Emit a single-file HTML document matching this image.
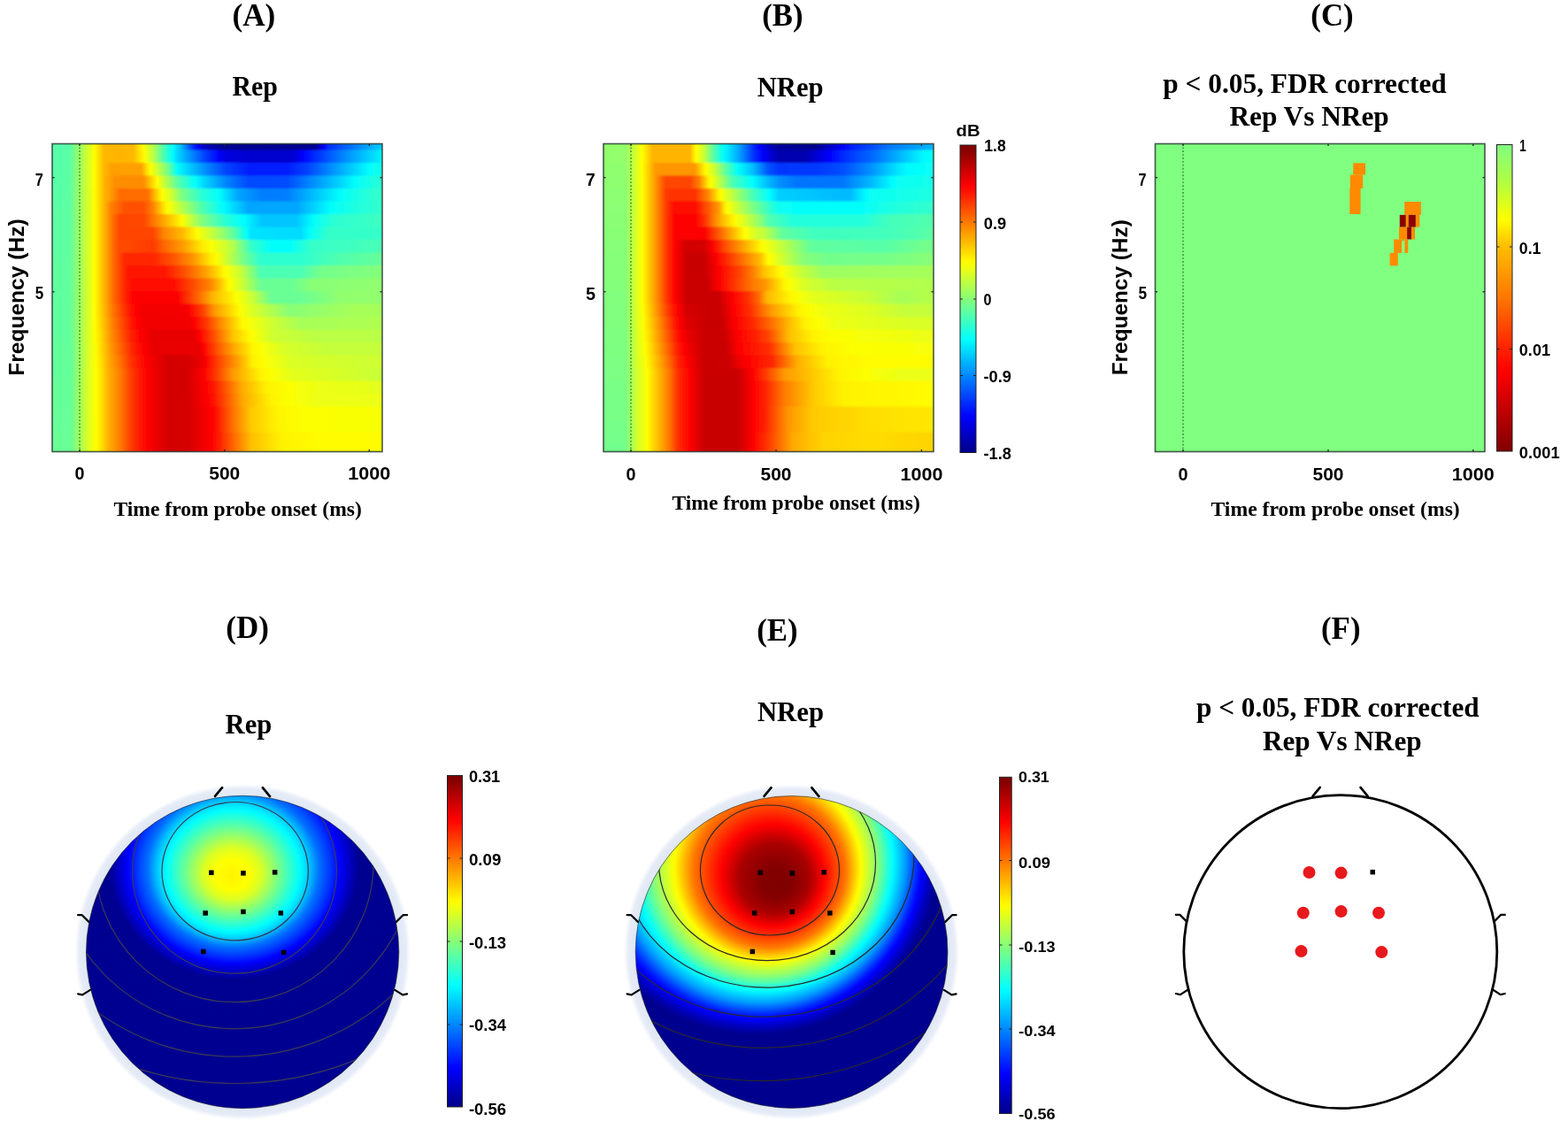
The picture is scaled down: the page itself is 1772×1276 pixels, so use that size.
<!DOCTYPE html>
<html><head><meta charset="utf-8"><title>Figure</title>
<style>html,body{margin:0;padding:0;background:#fff;}svg{display:block;}</style>
</head><body>
<svg width="1772" height="1276" viewBox="0 0 1772 1276"><defs><clipPath id="hclip1"><rect x="59" y="162.5" width="373" height="348.0"/></clipPath><filter id="hblur2" x="49" y="152.5" width="393" height="368.0" filterUnits="userSpaceOnUse"><feGaussianBlur stdDeviation="0.6 1.3"/></filter><linearGradient id="g3" gradientUnits="userSpaceOnUse" x1="53" y1="0" x2="438" y2="0"><stop offset="0.0000" stop-color="#54ffab"/><stop offset="0.0662" stop-color="#57ffa8"/><stop offset="0.1364" stop-color="#f9ff06"/><stop offset="0.1403" stop-color="#fffd00"/><stop offset="0.1675" stop-color="#ffb800"/><stop offset="0.2065" stop-color="#ffb500"/><stop offset="0.2532" stop-color="#ffb800"/><stop offset="0.2805" stop-color="#fff900"/><stop offset="0.2844" stop-color="#fbff04"/><stop offset="0.3117" stop-color="#b2ff4d"/><stop offset="0.3468" stop-color="#42ffbd"/><stop offset="0.3701" stop-color="#00feff"/><stop offset="0.3935" stop-color="#00beff"/><stop offset="0.4247" stop-color="#003cff"/><stop offset="0.4403" stop-color="#0007ff"/><stop offset="0.4442" stop-color="#0000f9"/><stop offset="0.4597" stop-color="#0000c5"/><stop offset="0.5143" stop-color="#00008f"/><stop offset="0.7870" stop-color="#000092"/><stop offset="0.8143" stop-color="#0000fd"/><stop offset="0.8260" stop-color="#002cff"/><stop offset="0.9779" stop-color="#00c8ff"/><stop offset="0.9896" stop-color="#00cfff"/><stop offset="1.0000" stop-color="#00cfff"/></linearGradient><linearGradient id="g4" gradientUnits="userSpaceOnUse" x1="53" y1="0" x2="438" y2="0"><stop offset="0.0000" stop-color="#55ffaa"/><stop offset="0.0662" stop-color="#58ffa7"/><stop offset="0.1364" stop-color="#f9ff06"/><stop offset="0.1403" stop-color="#fffd00"/><stop offset="0.1675" stop-color="#ffb800"/><stop offset="0.2065" stop-color="#ffb500"/><stop offset="0.2532" stop-color="#ffb700"/><stop offset="0.2805" stop-color="#ffef00"/><stop offset="0.2883" stop-color="#fbff04"/><stop offset="0.3117" stop-color="#bbff44"/><stop offset="0.3429" stop-color="#4dffb2"/><stop offset="0.3662" stop-color="#08fff7"/><stop offset="0.3701" stop-color="#00fbff"/><stop offset="0.3818" stop-color="#00d9ff"/><stop offset="0.4636" stop-color="#0042ff"/><stop offset="0.5065" stop-color="#0000fc"/><stop offset="0.5221" stop-color="#0000e3"/><stop offset="0.6039" stop-color="#0000cf"/><stop offset="0.7208" stop-color="#0000cf"/><stop offset="0.7519" stop-color="#0000ff"/><stop offset="0.7753" stop-color="#001fff"/><stop offset="0.9000" stop-color="#00a6ff"/><stop offset="0.9623" stop-color="#00dfff"/><stop offset="0.9857" stop-color="#00f8ff"/><stop offset="1.0000" stop-color="#00f8ff"/></linearGradient><linearGradient id="g5" gradientUnits="userSpaceOnUse" x1="53" y1="0" x2="438" y2="0"><stop offset="0.0000" stop-color="#56ffa9"/><stop offset="0.0662" stop-color="#59ffa6"/><stop offset="0.1364" stop-color="#f9ff06"/><stop offset="0.1403" stop-color="#fffd00"/><stop offset="0.1675" stop-color="#ffb800"/><stop offset="0.1792" stop-color="#ffad00"/><stop offset="0.1870" stop-color="#ffa000"/><stop offset="0.2766" stop-color="#ffa000"/><stop offset="0.2844" stop-color="#ffba00"/><stop offset="0.2961" stop-color="#ffe800"/><stop offset="0.3039" stop-color="#fffe00"/><stop offset="0.3429" stop-color="#97ff68"/><stop offset="0.3545" stop-color="#78ff87"/><stop offset="0.3818" stop-color="#03fffc"/><stop offset="0.4714" stop-color="#0084ff"/><stop offset="0.5260" stop-color="#0043ff"/><stop offset="0.5961" stop-color="#001cff"/><stop offset="0.7091" stop-color="#001fff"/><stop offset="0.7675" stop-color="#0045ff"/><stop offset="0.8494" stop-color="#009eff"/><stop offset="0.9468" stop-color="#02fffd"/><stop offset="0.9896" stop-color="#17ffe8"/><stop offset="1.0000" stop-color="#17ffe8"/></linearGradient><linearGradient id="g6" gradientUnits="userSpaceOnUse" x1="53" y1="0" x2="438" y2="0"><stop offset="0.0000" stop-color="#57ffa8"/><stop offset="0.0662" stop-color="#5affa5"/><stop offset="0.1364" stop-color="#f9ff06"/><stop offset="0.1403" stop-color="#fffd00"/><stop offset="0.1714" stop-color="#ffad00"/><stop offset="0.1831" stop-color="#ffa500"/><stop offset="0.1987" stop-color="#ff8e00"/><stop offset="0.2805" stop-color="#ff8c00"/><stop offset="0.2844" stop-color="#ff8f00"/><stop offset="0.3234" stop-color="#fffd00"/><stop offset="0.3818" stop-color="#5fffa0"/><stop offset="0.4364" stop-color="#00feff"/><stop offset="0.4636" stop-color="#00d4ff"/><stop offset="0.5260" stop-color="#0084ff"/><stop offset="0.5922" stop-color="#004aff"/><stop offset="0.7052" stop-color="#004bff"/><stop offset="0.8610" stop-color="#00d4ff"/><stop offset="0.9039" stop-color="#02fffd"/><stop offset="0.9857" stop-color="#2cffd3"/><stop offset="1.0000" stop-color="#2cffd3"/></linearGradient><linearGradient id="g7" gradientUnits="userSpaceOnUse" x1="53" y1="0" x2="438" y2="0"><stop offset="0.0000" stop-color="#58ffa7"/><stop offset="0.0662" stop-color="#5bffa4"/><stop offset="0.1130" stop-color="#c5ff3a"/><stop offset="0.1403" stop-color="#fffd00"/><stop offset="0.1714" stop-color="#ffad00"/><stop offset="0.1792" stop-color="#ffab00"/><stop offset="0.2143" stop-color="#ff6d00"/><stop offset="0.2961" stop-color="#ff6d00"/><stop offset="0.3195" stop-color="#ffc500"/><stop offset="0.3312" stop-color="#ffed00"/><stop offset="0.3390" stop-color="#fffe00"/><stop offset="0.3662" stop-color="#cfff30"/><stop offset="0.3935" stop-color="#81ff7e"/><stop offset="0.4558" stop-color="#29ffd6"/><stop offset="0.5065" stop-color="#03fffc"/><stop offset="0.5416" stop-color="#00c4ff"/><stop offset="0.5610" stop-color="#00a5ff"/><stop offset="0.6312" stop-color="#007dff"/><stop offset="0.7052" stop-color="#007eff"/><stop offset="0.8610" stop-color="#03fffc"/><stop offset="0.9662" stop-color="#31ffce"/><stop offset="1.0000" stop-color="#36ffc9"/></linearGradient><linearGradient id="g8" gradientUnits="userSpaceOnUse" x1="53" y1="0" x2="438" y2="0"><stop offset="0.0000" stop-color="#59ffa6"/><stop offset="0.0662" stop-color="#5cffa3"/><stop offset="0.1130" stop-color="#c5ff3a"/><stop offset="0.1403" stop-color="#fffd00"/><stop offset="0.1753" stop-color="#ffa200"/><stop offset="0.1870" stop-color="#ff8200"/><stop offset="0.2299" stop-color="#ff4f00"/><stop offset="0.2844" stop-color="#ff5100"/><stop offset="0.3117" stop-color="#ff8200"/><stop offset="0.3506" stop-color="#fff700"/><stop offset="0.3584" stop-color="#f9ff06"/><stop offset="0.4558" stop-color="#4fffb0"/><stop offset="0.5182" stop-color="#00fdff"/><stop offset="0.5922" stop-color="#00a6ff"/><stop offset="0.7325" stop-color="#00a6ff"/><stop offset="0.8338" stop-color="#03fffc"/><stop offset="0.9039" stop-color="#1effe1"/><stop offset="0.9935" stop-color="#36ffc9"/><stop offset="1.0000" stop-color="#36ffc9"/></linearGradient><linearGradient id="g9" gradientUnits="userSpaceOnUse" x1="53" y1="0" x2="438" y2="0"><stop offset="0.0000" stop-color="#5affa5"/><stop offset="0.0662" stop-color="#5cffa3"/><stop offset="0.1091" stop-color="#bcff43"/><stop offset="0.1403" stop-color="#fffd00"/><stop offset="0.1753" stop-color="#ffa200"/><stop offset="0.1948" stop-color="#ff6c00"/><stop offset="0.2143" stop-color="#ff4500"/><stop offset="0.2844" stop-color="#ff4700"/><stop offset="0.3234" stop-color="#ff8900"/><stop offset="0.3740" stop-color="#ffd800"/><stop offset="0.3974" stop-color="#fcff03"/><stop offset="0.4519" stop-color="#87ff78"/><stop offset="0.5260" stop-color="#29ffd6"/><stop offset="0.5766" stop-color="#00ffff"/><stop offset="0.6312" stop-color="#00c5ff"/><stop offset="0.7325" stop-color="#00c5ff"/><stop offset="0.7831" stop-color="#03fffc"/><stop offset="0.8416" stop-color="#2cffd3"/><stop offset="1.0000" stop-color="#40ffbf"/></linearGradient><linearGradient id="g10" gradientUnits="userSpaceOnUse" x1="53" y1="0" x2="438" y2="0"><stop offset="0.0000" stop-color="#5affa5"/><stop offset="0.0662" stop-color="#5dffa2"/><stop offset="0.1091" stop-color="#bcff43"/><stop offset="0.1403" stop-color="#fffd00"/><stop offset="0.1753" stop-color="#ffa200"/><stop offset="0.1948" stop-color="#ff6c00"/><stop offset="0.2143" stop-color="#ff4500"/><stop offset="0.3117" stop-color="#ff4500"/><stop offset="0.3429" stop-color="#ff8400"/><stop offset="0.3974" stop-color="#ffb900"/><stop offset="0.4403" stop-color="#fffe00"/><stop offset="0.4948" stop-color="#b6ff49"/><stop offset="0.5455" stop-color="#63ff9c"/><stop offset="0.5883" stop-color="#00feff"/><stop offset="0.6000" stop-color="#00e3ff"/><stop offset="0.7442" stop-color="#00dbff"/><stop offset="0.7714" stop-color="#03fffc"/><stop offset="0.8299" stop-color="#36ffc9"/><stop offset="1.0000" stop-color="#36ffc9"/></linearGradient><linearGradient id="g11" gradientUnits="userSpaceOnUse" x1="53" y1="0" x2="438" y2="0"><stop offset="0.0000" stop-color="#5bffa4"/><stop offset="0.0662" stop-color="#5effa1"/><stop offset="0.1052" stop-color="#b2ff4d"/><stop offset="0.1364" stop-color="#f9ff06"/><stop offset="0.1403" stop-color="#fffd00"/><stop offset="0.1753" stop-color="#ffa200"/><stop offset="0.1948" stop-color="#ff6c00"/><stop offset="0.2104" stop-color="#ff4d00"/><stop offset="0.3117" stop-color="#ff3a00"/><stop offset="0.3468" stop-color="#ff6900"/><stop offset="0.4013" stop-color="#ff9f00"/><stop offset="0.4558" stop-color="#ffeb00"/><stop offset="0.4831" stop-color="#fbff04"/><stop offset="0.5299" stop-color="#c9ff36"/><stop offset="0.5455" stop-color="#b4ff4b"/><stop offset="0.6000" stop-color="#36ffc9"/><stop offset="0.6584" stop-color="#03fffc"/><stop offset="0.7169" stop-color="#05fffa"/><stop offset="0.7753" stop-color="#36ffc9"/><stop offset="1.0000" stop-color="#4affb5"/></linearGradient><linearGradient id="g12" gradientUnits="userSpaceOnUse" x1="53" y1="0" x2="438" y2="0"><stop offset="0.0000" stop-color="#5cffa3"/><stop offset="0.0662" stop-color="#5fffa0"/><stop offset="0.1052" stop-color="#b2ff4d"/><stop offset="0.1364" stop-color="#f9ff06"/><stop offset="0.1403" stop-color="#fffd00"/><stop offset="0.1753" stop-color="#ffa200"/><stop offset="0.1948" stop-color="#ff6c00"/><stop offset="0.2260" stop-color="#ff2c00"/><stop offset="0.2299" stop-color="#ff2600"/><stop offset="0.3156" stop-color="#ff2900"/><stop offset="0.3740" stop-color="#ff5700"/><stop offset="0.4286" stop-color="#ff9500"/><stop offset="0.4792" stop-color="#ffe900"/><stop offset="0.4987" stop-color="#fffc00"/><stop offset="0.5805" stop-color="#70ff8f"/><stop offset="0.6273" stop-color="#2effd1"/><stop offset="0.7481" stop-color="#2effd1"/><stop offset="0.8532" stop-color="#4fffb0"/><stop offset="1.0000" stop-color="#69ff96"/></linearGradient><linearGradient id="g13" gradientUnits="userSpaceOnUse" x1="53" y1="0" x2="438" y2="0"><stop offset="0.0000" stop-color="#5dffa2"/><stop offset="0.0662" stop-color="#60ff9f"/><stop offset="0.1052" stop-color="#b2ff4d"/><stop offset="0.1364" stop-color="#f9ff06"/><stop offset="0.1403" stop-color="#fffd00"/><stop offset="0.1753" stop-color="#ffa200"/><stop offset="0.1948" stop-color="#ff6c00"/><stop offset="0.2299" stop-color="#ff2500"/><stop offset="0.2416" stop-color="#ff1200"/><stop offset="0.3429" stop-color="#ff1400"/><stop offset="0.4052" stop-color="#ff5200"/><stop offset="0.4675" stop-color="#ffa300"/><stop offset="0.5026" stop-color="#ffdb00"/><stop offset="0.5182" stop-color="#fff700"/><stop offset="0.5299" stop-color="#f9ff06"/><stop offset="0.5727" stop-color="#c2ff3d"/><stop offset="0.6273" stop-color="#4dffb2"/><stop offset="0.7442" stop-color="#4bffb4"/><stop offset="0.8026" stop-color="#73ff8c"/><stop offset="1.0000" stop-color="#87ff78"/></linearGradient><linearGradient id="g14" gradientUnits="userSpaceOnUse" x1="53" y1="0" x2="438" y2="0"><stop offset="0.0000" stop-color="#5effa1"/><stop offset="0.0662" stop-color="#60ff9f"/><stop offset="0.1052" stop-color="#b2ff4d"/><stop offset="0.1364" stop-color="#f9ff06"/><stop offset="0.1403" stop-color="#fffd00"/><stop offset="0.1753" stop-color="#ffa200"/><stop offset="0.1948" stop-color="#ff6c00"/><stop offset="0.2299" stop-color="#ff2500"/><stop offset="0.2571" stop-color="#ff0700"/><stop offset="0.3662" stop-color="#ff0700"/><stop offset="0.4792" stop-color="#ff8400"/><stop offset="0.5065" stop-color="#ffbe00"/><stop offset="0.5299" stop-color="#fff600"/><stop offset="0.5377" stop-color="#feff01"/><stop offset="0.5805" stop-color="#bfff40"/><stop offset="0.6273" stop-color="#6bff94"/><stop offset="0.7169" stop-color="#6aff95"/><stop offset="0.7753" stop-color="#88ff77"/><stop offset="1.0000" stop-color="#92ff6d"/></linearGradient><linearGradient id="g15" gradientUnits="userSpaceOnUse" x1="53" y1="0" x2="438" y2="0"><stop offset="0.0000" stop-color="#5fffa0"/><stop offset="0.0662" stop-color="#61ff9e"/><stop offset="0.1013" stop-color="#a9ff56"/><stop offset="0.1364" stop-color="#f9ff06"/><stop offset="0.1403" stop-color="#fffd00"/><stop offset="0.1753" stop-color="#ffa200"/><stop offset="0.1948" stop-color="#ff6c00"/><stop offset="0.2299" stop-color="#ff2500"/><stop offset="0.2494" stop-color="#ff0500"/><stop offset="0.2688" stop-color="#fc0000"/><stop offset="0.3818" stop-color="#fc0000"/><stop offset="0.4558" stop-color="#ff7a00"/><stop offset="0.4870" stop-color="#ffb600"/><stop offset="0.5571" stop-color="#fdff02"/><stop offset="0.6039" stop-color="#c8ff37"/><stop offset="0.6584" stop-color="#69ff96"/><stop offset="0.7519" stop-color="#6cff93"/><stop offset="0.8649" stop-color="#92ff6d"/><stop offset="1.0000" stop-color="#92ff6d"/></linearGradient><linearGradient id="g16" gradientUnits="userSpaceOnUse" x1="53" y1="0" x2="438" y2="0"><stop offset="0.0000" stop-color="#60ff9f"/><stop offset="0.0662" stop-color="#62ff9d"/><stop offset="0.1013" stop-color="#a9ff56"/><stop offset="0.1364" stop-color="#f8ff07"/><stop offset="0.1403" stop-color="#fffe00"/><stop offset="0.1753" stop-color="#ffa600"/><stop offset="0.1948" stop-color="#ff7400"/><stop offset="0.2455" stop-color="#ff1300"/><stop offset="0.2649" stop-color="#fc0000"/><stop offset="0.2805" stop-color="#f20000"/><stop offset="0.4091" stop-color="#f40000"/><stop offset="0.4169" stop-color="#ff0100"/><stop offset="0.4597" stop-color="#ff4500"/><stop offset="0.4909" stop-color="#ff9600"/><stop offset="0.5649" stop-color="#fffc00"/><stop offset="0.6039" stop-color="#d9ff26"/><stop offset="0.7130" stop-color="#88ff77"/><stop offset="0.9039" stop-color="#a6ff59"/><stop offset="1.0000" stop-color="#a6ff59"/></linearGradient><linearGradient id="g17" gradientUnits="userSpaceOnUse" x1="53" y1="0" x2="438" y2="0"><stop offset="0.0000" stop-color="#60ff9f"/><stop offset="0.0662" stop-color="#62ff9d"/><stop offset="0.0974" stop-color="#a1ff5e"/><stop offset="0.1286" stop-color="#e8ff17"/><stop offset="0.1403" stop-color="#feff01"/><stop offset="0.1675" stop-color="#ffbf00"/><stop offset="0.1948" stop-color="#ff7c00"/><stop offset="0.2494" stop-color="#ff1600"/><stop offset="0.2688" stop-color="#ff0000"/><stop offset="0.2883" stop-color="#f20000"/><stop offset="0.4208" stop-color="#f20000"/><stop offset="0.4325" stop-color="#ff0300"/><stop offset="0.4675" stop-color="#ff3600"/><stop offset="0.5065" stop-color="#ff8400"/><stop offset="0.5727" stop-color="#fff800"/><stop offset="0.5922" stop-color="#f9ff06"/><stop offset="0.6779" stop-color="#c5ff3a"/><stop offset="0.7481" stop-color="#a6ff59"/><stop offset="1.0000" stop-color="#b0ff4f"/></linearGradient><linearGradient id="g18" gradientUnits="userSpaceOnUse" x1="53" y1="0" x2="438" y2="0"><stop offset="0.0000" stop-color="#61ff9e"/><stop offset="0.0662" stop-color="#62ff9d"/><stop offset="0.0740" stop-color="#6fff90"/><stop offset="0.1286" stop-color="#e8ff17"/><stop offset="0.1403" stop-color="#fdff02"/><stop offset="0.1558" stop-color="#ffe000"/><stop offset="0.1870" stop-color="#ff9300"/><stop offset="0.2455" stop-color="#ff2400"/><stop offset="0.2766" stop-color="#fe0000"/><stop offset="0.3078" stop-color="#e80000"/><stop offset="0.4325" stop-color="#e80000"/><stop offset="0.4481" stop-color="#ff0200"/><stop offset="0.4948" stop-color="#ff5800"/><stop offset="0.5455" stop-color="#ffc200"/><stop offset="0.5922" stop-color="#fff800"/><stop offset="0.6039" stop-color="#fcff03"/><stop offset="0.6623" stop-color="#ceff31"/><stop offset="0.7909" stop-color="#baff45"/><stop offset="1.0000" stop-color="#baff45"/></linearGradient><linearGradient id="g19" gradientUnits="userSpaceOnUse" x1="53" y1="0" x2="438" y2="0"><stop offset="0.0000" stop-color="#62ff9d"/><stop offset="0.0701" stop-color="#65ff9a"/><stop offset="0.1286" stop-color="#e8ff17"/><stop offset="0.1442" stop-color="#fffc00"/><stop offset="0.1636" stop-color="#ffd000"/><stop offset="0.1870" stop-color="#ff9a00"/><stop offset="0.2260" stop-color="#ff5300"/><stop offset="0.2494" stop-color="#ff2800"/><stop offset="0.2844" stop-color="#ff0000"/><stop offset="0.3156" stop-color="#e80000"/><stop offset="0.4481" stop-color="#ea0000"/><stop offset="0.4597" stop-color="#ff0400"/><stop offset="0.5026" stop-color="#ff5800"/><stop offset="0.5532" stop-color="#ffaf00"/><stop offset="0.6039" stop-color="#fff400"/><stop offset="0.6273" stop-color="#fcff03"/><stop offset="0.6935" stop-color="#d8ff27"/><stop offset="0.8182" stop-color="#c5ff3a"/><stop offset="1.0000" stop-color="#c5ff3a"/></linearGradient><linearGradient id="g20" gradientUnits="userSpaceOnUse" x1="53" y1="0" x2="438" y2="0"><stop offset="0.0000" stop-color="#63ff9c"/><stop offset="0.0701" stop-color="#65ff9a"/><stop offset="0.1286" stop-color="#e9ff16"/><stop offset="0.1442" stop-color="#fffe00"/><stop offset="0.1597" stop-color="#ffdd00"/><stop offset="0.1831" stop-color="#ffa700"/><stop offset="0.2182" stop-color="#ff6d00"/><stop offset="0.2455" stop-color="#ff3600"/><stop offset="0.2805" stop-color="#ff0a00"/><stop offset="0.2961" stop-color="#fa0000"/><stop offset="0.3584" stop-color="#d30000"/><stop offset="0.4130" stop-color="#d60000"/><stop offset="0.4558" stop-color="#ea0000"/><stop offset="0.4675" stop-color="#ff0200"/><stop offset="0.5026" stop-color="#ff4100"/><stop offset="0.5688" stop-color="#ffae00"/><stop offset="0.6039" stop-color="#fff000"/><stop offset="0.6390" stop-color="#fcff03"/><stop offset="0.7208" stop-color="#d9ff26"/><stop offset="0.9156" stop-color="#cfff30"/><stop offset="1.0000" stop-color="#cfff30"/></linearGradient><linearGradient id="g21" gradientUnits="userSpaceOnUse" x1="53" y1="0" x2="438" y2="0"><stop offset="0.0000" stop-color="#64ff9b"/><stop offset="0.0701" stop-color="#64ff9b"/><stop offset="0.1247" stop-color="#e3ff1c"/><stop offset="0.1442" stop-color="#feff01"/><stop offset="0.1558" stop-color="#ffea00"/><stop offset="0.1792" stop-color="#ffb300"/><stop offset="0.2182" stop-color="#ff7700"/><stop offset="0.2455" stop-color="#ff3f00"/><stop offset="0.2805" stop-color="#ff1100"/><stop offset="0.2961" stop-color="#ff0000"/><stop offset="0.3545" stop-color="#d30000"/><stop offset="0.4091" stop-color="#d40000"/><stop offset="0.4481" stop-color="#f40000"/><stop offset="0.4636" stop-color="#ff0600"/><stop offset="0.4987" stop-color="#ff3f00"/><stop offset="0.5455" stop-color="#ff9900"/><stop offset="0.6273" stop-color="#fff400"/><stop offset="0.6623" stop-color="#fbff04"/><stop offset="0.7208" stop-color="#e3ff1c"/><stop offset="0.9000" stop-color="#d2ff2d"/><stop offset="1.0000" stop-color="#c5ff3a"/></linearGradient><linearGradient id="g22" gradientUnits="userSpaceOnUse" x1="53" y1="0" x2="438" y2="0"><stop offset="0.0000" stop-color="#65ff9a"/><stop offset="0.0701" stop-color="#65ff9a"/><stop offset="0.1247" stop-color="#e3ff1c"/><stop offset="0.1442" stop-color="#feff01"/><stop offset="0.1558" stop-color="#ffea00"/><stop offset="0.1792" stop-color="#ffb300"/><stop offset="0.2182" stop-color="#ff7700"/><stop offset="0.2455" stop-color="#ff3f00"/><stop offset="0.2805" stop-color="#ff1100"/><stop offset="0.2961" stop-color="#ff0000"/><stop offset="0.3545" stop-color="#d30000"/><stop offset="0.4091" stop-color="#d40000"/><stop offset="0.4675" stop-color="#ff0200"/><stop offset="0.4870" stop-color="#ff1400"/><stop offset="0.5727" stop-color="#ffac00"/><stop offset="0.6468" stop-color="#fff300"/><stop offset="0.7130" stop-color="#fcff03"/><stop offset="0.7909" stop-color="#edff12"/><stop offset="1.0000" stop-color="#e3ff1c"/></linearGradient><linearGradient id="g23" gradientUnits="userSpaceOnUse" x1="53" y1="0" x2="438" y2="0"><stop offset="0.0000" stop-color="#65ff9a"/><stop offset="0.0701" stop-color="#65ff9a"/><stop offset="0.1247" stop-color="#e3ff1c"/><stop offset="0.1442" stop-color="#feff01"/><stop offset="0.1558" stop-color="#ffea00"/><stop offset="0.1792" stop-color="#ffb300"/><stop offset="0.2182" stop-color="#ff7700"/><stop offset="0.2455" stop-color="#ff3f00"/><stop offset="0.2805" stop-color="#ff1100"/><stop offset="0.2961" stop-color="#ff0000"/><stop offset="0.3545" stop-color="#d30000"/><stop offset="0.4091" stop-color="#d40000"/><stop offset="0.4714" stop-color="#ff0200"/><stop offset="0.4870" stop-color="#ff0f00"/><stop offset="0.5766" stop-color="#ffab00"/><stop offset="0.6584" stop-color="#fff300"/><stop offset="0.7169" stop-color="#fcff03"/><stop offset="0.7831" stop-color="#edff12"/><stop offset="1.0000" stop-color="#edff12"/></linearGradient><linearGradient id="g24" gradientUnits="userSpaceOnUse" x1="53" y1="0" x2="438" y2="0"><stop offset="0.0000" stop-color="#66ff99"/><stop offset="0.0701" stop-color="#66ff99"/><stop offset="0.1247" stop-color="#e3ff1c"/><stop offset="0.1442" stop-color="#feff01"/><stop offset="0.1558" stop-color="#ffea00"/><stop offset="0.1792" stop-color="#ffb300"/><stop offset="0.2182" stop-color="#ff7700"/><stop offset="0.2455" stop-color="#ff3f00"/><stop offset="0.2805" stop-color="#ff1100"/><stop offset="0.2961" stop-color="#ff0000"/><stop offset="0.3545" stop-color="#d30000"/><stop offset="0.4130" stop-color="#d60000"/><stop offset="0.4831" stop-color="#ff0200"/><stop offset="0.4909" stop-color="#ff0700"/><stop offset="0.5494" stop-color="#ff7800"/><stop offset="0.6000" stop-color="#ffc900"/><stop offset="0.6779" stop-color="#fff400"/><stop offset="0.7558" stop-color="#fbff04"/><stop offset="1.0000" stop-color="#f8ff07"/></linearGradient><linearGradient id="g25" gradientUnits="userSpaceOnUse" x1="53" y1="0" x2="438" y2="0"><stop offset="0.0000" stop-color="#67ff98"/><stop offset="0.0701" stop-color="#67ff98"/><stop offset="0.1247" stop-color="#e3ff1c"/><stop offset="0.1442" stop-color="#feff01"/><stop offset="0.1558" stop-color="#ffea00"/><stop offset="0.1792" stop-color="#ffb300"/><stop offset="0.2182" stop-color="#ff7700"/><stop offset="0.2455" stop-color="#ff3f00"/><stop offset="0.2805" stop-color="#ff1100"/><stop offset="0.2961" stop-color="#ff0000"/><stop offset="0.3545" stop-color="#d30000"/><stop offset="0.4130" stop-color="#d60000"/><stop offset="0.4831" stop-color="#ff0200"/><stop offset="0.4909" stop-color="#ff0700"/><stop offset="0.5494" stop-color="#ff7800"/><stop offset="0.6000" stop-color="#ffc900"/><stop offset="0.6779" stop-color="#fff400"/><stop offset="0.7558" stop-color="#fbff04"/><stop offset="1.0000" stop-color="#f8ff07"/></linearGradient><linearGradient id="g26" gradientUnits="userSpaceOnUse" x1="53" y1="0" x2="438" y2="0"><stop offset="0.0000" stop-color="#68ff97"/><stop offset="0.0701" stop-color="#68ff97"/><stop offset="0.1247" stop-color="#e3ff1c"/><stop offset="0.1442" stop-color="#feff01"/><stop offset="0.1558" stop-color="#ffea00"/><stop offset="0.1792" stop-color="#ffb300"/><stop offset="0.2182" stop-color="#ff7700"/><stop offset="0.2455" stop-color="#ff3f00"/><stop offset="0.2805" stop-color="#ff1100"/><stop offset="0.2961" stop-color="#ff0000"/><stop offset="0.3545" stop-color="#d30000"/><stop offset="0.4130" stop-color="#d60000"/><stop offset="0.4831" stop-color="#ff0200"/><stop offset="0.4948" stop-color="#ff0e00"/><stop offset="0.6000" stop-color="#ffbf00"/><stop offset="0.6896" stop-color="#fff200"/><stop offset="0.8065" stop-color="#fffc00"/><stop offset="1.0000" stop-color="#fffc00"/></linearGradient><linearGradient id="g27" gradientUnits="userSpaceOnUse" x1="53" y1="0" x2="438" y2="0"><stop offset="0.0000" stop-color="#69ff96"/><stop offset="0.0701" stop-color="#69ff96"/><stop offset="0.1247" stop-color="#e3ff1c"/><stop offset="0.1442" stop-color="#feff01"/><stop offset="0.1558" stop-color="#ffea00"/><stop offset="0.1792" stop-color="#ffb300"/><stop offset="0.2182" stop-color="#ff7700"/><stop offset="0.2455" stop-color="#ff3f00"/><stop offset="0.2805" stop-color="#ff1100"/><stop offset="0.2961" stop-color="#ff0000"/><stop offset="0.3545" stop-color="#d30000"/><stop offset="0.4130" stop-color="#d60000"/><stop offset="0.4831" stop-color="#ff0200"/><stop offset="0.4948" stop-color="#ff0e00"/><stop offset="0.6000" stop-color="#ffbf00"/><stop offset="0.6896" stop-color="#fff200"/><stop offset="0.8065" stop-color="#fffc00"/><stop offset="1.0000" stop-color="#fffc00"/></linearGradient><clipPath id="hclip28"><rect x="682" y="162.5" width="373" height="348.0"/></clipPath><filter id="hblur29" x="672" y="152.5" width="393" height="368.0" filterUnits="userSpaceOnUse"><feGaussianBlur stdDeviation="0.6 1.3"/></filter><linearGradient id="g30" gradientUnits="userSpaceOnUse" x1="676" y1="0" x2="1061" y2="0"><stop offset="0.0000" stop-color="#92ff6d"/><stop offset="0.0818" stop-color="#95ff6a"/><stop offset="0.1286" stop-color="#ffff00"/><stop offset="0.1597" stop-color="#ffb500"/><stop offset="0.2688" stop-color="#ffb500"/><stop offset="0.2727" stop-color="#ffc100"/><stop offset="0.2844" stop-color="#fff500"/><stop offset="0.2883" stop-color="#ffff00"/><stop offset="0.3117" stop-color="#c5ff3a"/><stop offset="0.3390" stop-color="#57ffa8"/><stop offset="0.3662" stop-color="#06fff9"/><stop offset="0.3740" stop-color="#00f5ff"/><stop offset="0.4091" stop-color="#00b0ff"/><stop offset="0.4558" stop-color="#002aff"/><stop offset="0.4714" stop-color="#0005ff"/><stop offset="0.4792" stop-color="#0000f2"/><stop offset="0.4987" stop-color="#0000c4"/><stop offset="0.5299" stop-color="#00009c"/><stop offset="0.6117" stop-color="#00008f"/><stop offset="0.6390" stop-color="#00008f"/><stop offset="0.7130" stop-color="#0000f3"/><stop offset="0.7208" stop-color="#0000ff"/><stop offset="0.7442" stop-color="#001fff"/><stop offset="0.8065" stop-color="#004cff"/><stop offset="0.8532" stop-color="#0076ff"/><stop offset="0.9896" stop-color="#00baff"/><stop offset="1.0000" stop-color="#00baff"/></linearGradient><linearGradient id="g31" gradientUnits="userSpaceOnUse" x1="676" y1="0" x2="1061" y2="0"><stop offset="0.0000" stop-color="#90ff6f"/><stop offset="0.0818" stop-color="#94ff6b"/><stop offset="0.1286" stop-color="#ffff00"/><stop offset="0.1597" stop-color="#ffb500"/><stop offset="0.2688" stop-color="#ffb500"/><stop offset="0.2727" stop-color="#ffc100"/><stop offset="0.2844" stop-color="#fff500"/><stop offset="0.2883" stop-color="#ffff00"/><stop offset="0.3117" stop-color="#c5ff3a"/><stop offset="0.3390" stop-color="#57ffa8"/><stop offset="0.3662" stop-color="#06fff9"/><stop offset="0.3740" stop-color="#00f5ff"/><stop offset="0.4130" stop-color="#00a6ff"/><stop offset="0.4558" stop-color="#0036ff"/><stop offset="0.4831" stop-color="#0000fe"/><stop offset="0.5065" stop-color="#0000d4"/><stop offset="0.5299" stop-color="#0000b0"/><stop offset="0.6078" stop-color="#0000b0"/><stop offset="0.6779" stop-color="#0000fe"/><stop offset="0.7247" stop-color="#002eff"/><stop offset="0.8065" stop-color="#006bff"/><stop offset="0.9545" stop-color="#00f9ff"/><stop offset="0.9818" stop-color="#07fff8"/><stop offset="1.0000" stop-color="#08fff7"/></linearGradient><linearGradient id="g32" gradientUnits="userSpaceOnUse" x1="676" y1="0" x2="1061" y2="0"><stop offset="0.0000" stop-color="#8fff70"/><stop offset="0.0779" stop-color="#8fff70"/><stop offset="0.0818" stop-color="#92ff6d"/><stop offset="0.1247" stop-color="#f6ff09"/><stop offset="0.1286" stop-color="#ffff00"/><stop offset="0.1636" stop-color="#ffa500"/><stop offset="0.1675" stop-color="#ff9a00"/><stop offset="0.1831" stop-color="#ff9600"/><stop offset="0.2805" stop-color="#ff9600"/><stop offset="0.2844" stop-color="#ff9a00"/><stop offset="0.3117" stop-color="#fff200"/><stop offset="0.3195" stop-color="#fbff04"/><stop offset="0.3390" stop-color="#d0ff2f"/><stop offset="0.3701" stop-color="#6bff94"/><stop offset="0.4091" stop-color="#03fffc"/><stop offset="0.4519" stop-color="#00c2ff"/><stop offset="0.4987" stop-color="#0054ff"/><stop offset="0.5299" stop-color="#0036ff"/><stop offset="0.6468" stop-color="#0039ff"/><stop offset="0.7208" stop-color="#004fff"/><stop offset="0.8026" stop-color="#0092ff"/><stop offset="0.8766" stop-color="#00e2ff"/><stop offset="0.9039" stop-color="#00f9ff"/><stop offset="0.9545" stop-color="#06fff9"/><stop offset="1.0000" stop-color="#0dfff2"/></linearGradient><linearGradient id="g33" gradientUnits="userSpaceOnUse" x1="676" y1="0" x2="1061" y2="0"><stop offset="0.0000" stop-color="#8eff71"/><stop offset="0.0779" stop-color="#8eff71"/><stop offset="0.0818" stop-color="#91ff6e"/><stop offset="0.1208" stop-color="#eeff11"/><stop offset="0.1286" stop-color="#ffff00"/><stop offset="0.1636" stop-color="#ffa500"/><stop offset="0.1909" stop-color="#ff5800"/><stop offset="0.1987" stop-color="#ff4700"/><stop offset="0.2688" stop-color="#ff4500"/><stop offset="0.2961" stop-color="#ff7e00"/><stop offset="0.3234" stop-color="#ffed00"/><stop offset="0.3312" stop-color="#fcff03"/><stop offset="0.3623" stop-color="#aaff55"/><stop offset="0.3935" stop-color="#4effb1"/><stop offset="0.4519" stop-color="#01fffe"/><stop offset="0.5065" stop-color="#00aeff"/><stop offset="0.5338" stop-color="#008fff"/><stop offset="0.5844" stop-color="#0073ff"/><stop offset="0.7169" stop-color="#0075ff"/><stop offset="0.8026" stop-color="#00baff"/><stop offset="0.8649" stop-color="#00feff"/><stop offset="0.8766" stop-color="#09fff6"/><stop offset="1.0000" stop-color="#17ffe8"/></linearGradient><linearGradient id="g34" gradientUnits="userSpaceOnUse" x1="676" y1="0" x2="1061" y2="0"><stop offset="0.0000" stop-color="#8dff72"/><stop offset="0.0779" stop-color="#8dff72"/><stop offset="0.0818" stop-color="#90ff6f"/><stop offset="0.1169" stop-color="#e5ff1a"/><stop offset="0.1286" stop-color="#ffff00"/><stop offset="0.1636" stop-color="#ffa500"/><stop offset="0.1987" stop-color="#ff3e00"/><stop offset="0.2143" stop-color="#ff3000"/><stop offset="0.2844" stop-color="#ff3300"/><stop offset="0.3234" stop-color="#ff8900"/><stop offset="0.3545" stop-color="#fff400"/><stop offset="0.3623" stop-color="#faff05"/><stop offset="0.4558" stop-color="#44ffbb"/><stop offset="0.5026" stop-color="#01fffe"/><stop offset="0.5299" stop-color="#00cfff"/><stop offset="0.6701" stop-color="#00bfff"/><stop offset="0.7403" stop-color="#00baff"/><stop offset="0.7870" stop-color="#00fdff"/><stop offset="0.7987" stop-color="#09fff6"/><stop offset="1.0000" stop-color="#21ffde"/></linearGradient><linearGradient id="g35" gradientUnits="userSpaceOnUse" x1="676" y1="0" x2="1061" y2="0"><stop offset="0.0000" stop-color="#8bff74"/><stop offset="0.0779" stop-color="#8bff74"/><stop offset="0.0818" stop-color="#8fff70"/><stop offset="0.1130" stop-color="#ddff22"/><stop offset="0.1286" stop-color="#ffff00"/><stop offset="0.1636" stop-color="#ffa500"/><stop offset="0.2026" stop-color="#ff3500"/><stop offset="0.2221" stop-color="#ff0e00"/><stop offset="0.2338" stop-color="#ff0700"/><stop offset="0.2844" stop-color="#ff0a00"/><stop offset="0.3506" stop-color="#ff9100"/><stop offset="0.3545" stop-color="#ff9c00"/><stop offset="0.3740" stop-color="#fff400"/><stop offset="0.3818" stop-color="#faff05"/><stop offset="0.4208" stop-color="#b2ff4d"/><stop offset="0.5026" stop-color="#33ffcc"/><stop offset="0.5299" stop-color="#0dfff2"/><stop offset="0.5883" stop-color="#03fffc"/><stop offset="0.7792" stop-color="#06fff9"/><stop offset="0.8571" stop-color="#1dffe2"/><stop offset="1.0000" stop-color="#36ffc9"/></linearGradient><linearGradient id="g36" gradientUnits="userSpaceOnUse" x1="676" y1="0" x2="1061" y2="0"><stop offset="0.0000" stop-color="#8aff75"/><stop offset="0.0779" stop-color="#8aff75"/><stop offset="0.0818" stop-color="#8dff72"/><stop offset="0.1130" stop-color="#ddff22"/><stop offset="0.1286" stop-color="#ffff00"/><stop offset="0.1636" stop-color="#ffa500"/><stop offset="0.2026" stop-color="#ff3500"/><stop offset="0.2260" stop-color="#ff0300"/><stop offset="0.2844" stop-color="#fe0000"/><stop offset="0.3117" stop-color="#ff3000"/><stop offset="0.3429" stop-color="#ff8900"/><stop offset="0.3779" stop-color="#ffd300"/><stop offset="0.4013" stop-color="#fffb00"/><stop offset="0.4247" stop-color="#e0ff1f"/><stop offset="0.4792" stop-color="#84ff7b"/><stop offset="0.4987" stop-color="#54ffab"/><stop offset="0.5727" stop-color="#21ffde"/><stop offset="0.7753" stop-color="#23ffdc"/><stop offset="0.8532" stop-color="#42ffbd"/><stop offset="1.0000" stop-color="#54ffab"/></linearGradient><linearGradient id="g37" gradientUnits="userSpaceOnUse" x1="676" y1="0" x2="1061" y2="0"><stop offset="0.0000" stop-color="#89ff76"/><stop offset="0.0779" stop-color="#89ff76"/><stop offset="0.0818" stop-color="#8cff73"/><stop offset="0.1130" stop-color="#ddff22"/><stop offset="0.1286" stop-color="#ffff00"/><stop offset="0.1636" stop-color="#ffa500"/><stop offset="0.2026" stop-color="#ff3500"/><stop offset="0.2260" stop-color="#ff0300"/><stop offset="0.3117" stop-color="#fc0000"/><stop offset="0.4247" stop-color="#fff500"/><stop offset="0.4325" stop-color="#feff01"/><stop offset="0.4675" stop-color="#ceff31"/><stop offset="0.4870" stop-color="#c2ff3d"/><stop offset="0.5416" stop-color="#61ff9e"/><stop offset="0.6351" stop-color="#40ffbf"/><stop offset="0.8571" stop-color="#43ffbc"/><stop offset="0.9390" stop-color="#51ffae"/><stop offset="0.9974" stop-color="#5fffa0"/><stop offset="1.0000" stop-color="#5fffa0"/></linearGradient><linearGradient id="g38" gradientUnits="userSpaceOnUse" x1="676" y1="0" x2="1061" y2="0"><stop offset="0.0000" stop-color="#87ff78"/><stop offset="0.0779" stop-color="#87ff78"/><stop offset="0.0818" stop-color="#8bff74"/><stop offset="0.1130" stop-color="#ddff22"/><stop offset="0.1286" stop-color="#ffff00"/><stop offset="0.1636" stop-color="#ffa500"/><stop offset="0.2026" stop-color="#ff3500"/><stop offset="0.2260" stop-color="#ff0300"/><stop offset="0.2532" stop-color="#d40000"/><stop offset="0.3117" stop-color="#d30000"/><stop offset="0.3351" stop-color="#fe0000"/><stop offset="0.3740" stop-color="#ff5000"/><stop offset="0.4247" stop-color="#ffa300"/><stop offset="0.4597" stop-color="#ffda00"/><stop offset="0.4792" stop-color="#fffa00"/><stop offset="0.4909" stop-color="#f7ff08"/><stop offset="0.6273" stop-color="#60ff9f"/><stop offset="0.8377" stop-color="#57ffa8"/><stop offset="0.9584" stop-color="#73ff8c"/><stop offset="1.0000" stop-color="#73ff8c"/></linearGradient><linearGradient id="g39" gradientUnits="userSpaceOnUse" x1="676" y1="0" x2="1061" y2="0"><stop offset="0.0000" stop-color="#86ff79"/><stop offset="0.0779" stop-color="#86ff79"/><stop offset="0.0818" stop-color="#8aff75"/><stop offset="0.1091" stop-color="#d4ff2b"/><stop offset="0.1286" stop-color="#ffff00"/><stop offset="0.1636" stop-color="#ffa500"/><stop offset="0.2026" stop-color="#ff3500"/><stop offset="0.2260" stop-color="#ff0300"/><stop offset="0.2610" stop-color="#c90000"/><stop offset="0.3117" stop-color="#c90000"/><stop offset="0.3468" stop-color="#fd0000"/><stop offset="0.4792" stop-color="#ffc300"/><stop offset="0.4948" stop-color="#fff400"/><stop offset="0.5026" stop-color="#ffff00"/><stop offset="0.5532" stop-color="#beff41"/><stop offset="0.6039" stop-color="#86ff79"/><stop offset="0.6701" stop-color="#73ff8c"/><stop offset="0.8455" stop-color="#76ff89"/><stop offset="0.9662" stop-color="#87ff78"/><stop offset="1.0000" stop-color="#87ff78"/></linearGradient><linearGradient id="g40" gradientUnits="userSpaceOnUse" x1="676" y1="0" x2="1061" y2="0"><stop offset="0.0000" stop-color="#85ff7a"/><stop offset="0.0779" stop-color="#85ff7a"/><stop offset="0.0818" stop-color="#89ff76"/><stop offset="0.1091" stop-color="#d4ff2b"/><stop offset="0.1286" stop-color="#ffff00"/><stop offset="0.1636" stop-color="#ffa500"/><stop offset="0.2026" stop-color="#ff3500"/><stop offset="0.2260" stop-color="#ff0300"/><stop offset="0.2610" stop-color="#c90000"/><stop offset="0.3117" stop-color="#c90000"/><stop offset="0.3545" stop-color="#fe0000"/><stop offset="0.4169" stop-color="#ff4600"/><stop offset="0.4558" stop-color="#ff8200"/><stop offset="0.4870" stop-color="#ffc100"/><stop offset="0.5377" stop-color="#fffd00"/><stop offset="0.5961" stop-color="#c7ff38"/><stop offset="0.6584" stop-color="#9cff63"/><stop offset="1.0000" stop-color="#a6ff59"/></linearGradient><linearGradient id="g41" gradientUnits="userSpaceOnUse" x1="676" y1="0" x2="1061" y2="0"><stop offset="0.0000" stop-color="#84ff7b"/><stop offset="0.0779" stop-color="#84ff7b"/><stop offset="0.0818" stop-color="#87ff78"/><stop offset="0.1091" stop-color="#d4ff2b"/><stop offset="0.1286" stop-color="#ffff00"/><stop offset="0.1636" stop-color="#ffa500"/><stop offset="0.2026" stop-color="#ff3500"/><stop offset="0.2260" stop-color="#ff0300"/><stop offset="0.2610" stop-color="#c90000"/><stop offset="0.3195" stop-color="#ca0000"/><stop offset="0.3545" stop-color="#fe0000"/><stop offset="0.4558" stop-color="#ff7b00"/><stop offset="0.4909" stop-color="#ff9600"/><stop offset="0.5455" stop-color="#fff400"/><stop offset="0.5610" stop-color="#fcff03"/><stop offset="0.6039" stop-color="#d8ff27"/><stop offset="0.6935" stop-color="#baff45"/><stop offset="1.0000" stop-color="#b0ff4f"/></linearGradient><linearGradient id="g42" gradientUnits="userSpaceOnUse" x1="676" y1="0" x2="1061" y2="0"><stop offset="0.0000" stop-color="#82ff7d"/><stop offset="0.0779" stop-color="#82ff7d"/><stop offset="0.0818" stop-color="#86ff79"/><stop offset="0.1091" stop-color="#d4ff2b"/><stop offset="0.1286" stop-color="#ffff00"/><stop offset="0.1636" stop-color="#ffa500"/><stop offset="0.2026" stop-color="#ff3500"/><stop offset="0.2260" stop-color="#ff0300"/><stop offset="0.2610" stop-color="#c90000"/><stop offset="0.3545" stop-color="#cb0000"/><stop offset="0.3935" stop-color="#ff0100"/><stop offset="0.4403" stop-color="#ff3200"/><stop offset="0.4714" stop-color="#ff6b00"/><stop offset="0.4948" stop-color="#ffb600"/><stop offset="0.5649" stop-color="#fff600"/><stop offset="0.5883" stop-color="#faff05"/><stop offset="0.6351" stop-color="#e2ff1d"/><stop offset="0.7870" stop-color="#c9ff36"/><stop offset="0.8883" stop-color="#a7ff58"/><stop offset="1.0000" stop-color="#baff45"/></linearGradient><linearGradient id="g43" gradientUnits="userSpaceOnUse" x1="676" y1="0" x2="1061" y2="0"><stop offset="0.0000" stop-color="#81ff7e"/><stop offset="0.0779" stop-color="#81ff7e"/><stop offset="0.0818" stop-color="#85ff7a"/><stop offset="0.1091" stop-color="#d2ff2d"/><stop offset="0.1286" stop-color="#fbff04"/><stop offset="0.1364" stop-color="#fff200"/><stop offset="0.1714" stop-color="#ff9700"/><stop offset="0.2026" stop-color="#ff4200"/><stop offset="0.2338" stop-color="#fe0000"/><stop offset="0.2610" stop-color="#d40000"/><stop offset="0.3312" stop-color="#c90000"/><stop offset="0.3584" stop-color="#c90000"/><stop offset="0.3974" stop-color="#ff0000"/><stop offset="0.4481" stop-color="#ff3200"/><stop offset="0.4948" stop-color="#ff8400"/><stop offset="0.5104" stop-color="#ff9d00"/><stop offset="0.5883" stop-color="#fff300"/><stop offset="0.6234" stop-color="#fcff03"/><stop offset="0.6701" stop-color="#ecff13"/><stop offset="0.7909" stop-color="#deff21"/><stop offset="0.8961" stop-color="#c5ff3a"/><stop offset="1.0000" stop-color="#c5ff3a"/></linearGradient><linearGradient id="g44" gradientUnits="userSpaceOnUse" x1="676" y1="0" x2="1061" y2="0"><stop offset="0.0000" stop-color="#80ff7f"/><stop offset="0.0779" stop-color="#80ff7f"/><stop offset="0.0818" stop-color="#84ff7b"/><stop offset="0.1091" stop-color="#d0ff2f"/><stop offset="0.1325" stop-color="#ffff00"/><stop offset="0.1636" stop-color="#ffb500"/><stop offset="0.2065" stop-color="#ff4800"/><stop offset="0.2338" stop-color="#ff0800"/><stop offset="0.2416" stop-color="#fb0000"/><stop offset="0.2610" stop-color="#de0000"/><stop offset="0.3195" stop-color="#c90000"/><stop offset="0.3623" stop-color="#c90000"/><stop offset="0.4013" stop-color="#fd0000"/><stop offset="0.4558" stop-color="#ff2b00"/><stop offset="0.5104" stop-color="#ff7200"/><stop offset="0.5649" stop-color="#ffc000"/><stop offset="0.6078" stop-color="#fff300"/><stop offset="0.6468" stop-color="#fcff03"/><stop offset="0.6974" stop-color="#ecff13"/><stop offset="0.9195" stop-color="#d9ff26"/><stop offset="1.0000" stop-color="#d9ff26"/></linearGradient><linearGradient id="g45" gradientUnits="userSpaceOnUse" x1="676" y1="0" x2="1061" y2="0"><stop offset="0.0000" stop-color="#7fff80"/><stop offset="0.0779" stop-color="#7fff80"/><stop offset="0.0818" stop-color="#82ff7d"/><stop offset="0.1130" stop-color="#d7ff28"/><stop offset="0.1325" stop-color="#fbff04"/><stop offset="0.1442" stop-color="#ffeb00"/><stop offset="0.2338" stop-color="#ff1200"/><stop offset="0.2455" stop-color="#ff0100"/><stop offset="0.2649" stop-color="#e60000"/><stop offset="0.3156" stop-color="#c90000"/><stop offset="0.3701" stop-color="#cb0000"/><stop offset="0.4091" stop-color="#fe0000"/><stop offset="0.4636" stop-color="#ff2200"/><stop offset="0.4987" stop-color="#ff4500"/><stop offset="0.5610" stop-color="#ffbf00"/><stop offset="0.6312" stop-color="#fff300"/><stop offset="0.6974" stop-color="#fcff03"/><stop offset="0.9312" stop-color="#edff12"/><stop offset="1.0000" stop-color="#edff12"/></linearGradient><linearGradient id="g46" gradientUnits="userSpaceOnUse" x1="676" y1="0" x2="1061" y2="0"><stop offset="0.0000" stop-color="#7dff82"/><stop offset="0.0779" stop-color="#7dff82"/><stop offset="0.0818" stop-color="#81ff7e"/><stop offset="0.1130" stop-color="#d5ff2a"/><stop offset="0.1364" stop-color="#feff01"/><stop offset="0.1558" stop-color="#ffd800"/><stop offset="0.2182" stop-color="#ff4400"/><stop offset="0.2338" stop-color="#ff1c00"/><stop offset="0.2532" stop-color="#fe0000"/><stop offset="0.2805" stop-color="#e30000"/><stop offset="0.3156" stop-color="#c90000"/><stop offset="0.3740" stop-color="#c90000"/><stop offset="0.4130" stop-color="#fe0000"/><stop offset="0.5026" stop-color="#ff2f00"/><stop offset="0.5766" stop-color="#ffbf00"/><stop offset="0.6584" stop-color="#fff300"/><stop offset="0.7519" stop-color="#fbff04"/><stop offset="0.9468" stop-color="#f8ff07"/><stop offset="1.0000" stop-color="#f8ff07"/></linearGradient><linearGradient id="g47" gradientUnits="userSpaceOnUse" x1="676" y1="0" x2="1061" y2="0"><stop offset="0.0000" stop-color="#7cff83"/><stop offset="0.0779" stop-color="#7cff83"/><stop offset="0.0818" stop-color="#80ff7f"/><stop offset="0.1130" stop-color="#d3ff2c"/><stop offset="0.1403" stop-color="#fffe00"/><stop offset="0.1597" stop-color="#ffd600"/><stop offset="0.1987" stop-color="#ff8100"/><stop offset="0.2143" stop-color="#ff5b00"/><stop offset="0.2338" stop-color="#ff2600"/><stop offset="0.2610" stop-color="#fe0000"/><stop offset="0.3117" stop-color="#c90000"/><stop offset="0.3818" stop-color="#cc0000"/><stop offset="0.4208" stop-color="#f50000"/><stop offset="0.4442" stop-color="#ff0400"/><stop offset="0.5104" stop-color="#ff2800"/><stop offset="0.5844" stop-color="#ffad00"/><stop offset="0.6740" stop-color="#fff200"/><stop offset="0.8104" stop-color="#fffc00"/><stop offset="1.0000" stop-color="#fffc00"/></linearGradient><linearGradient id="g48" gradientUnits="userSpaceOnUse" x1="676" y1="0" x2="1061" y2="0"><stop offset="0.0000" stop-color="#7bff84"/><stop offset="0.0779" stop-color="#7bff84"/><stop offset="0.0818" stop-color="#7eff81"/><stop offset="0.1130" stop-color="#d1ff2e"/><stop offset="0.1442" stop-color="#fffd00"/><stop offset="0.1948" stop-color="#ff9500"/><stop offset="0.2104" stop-color="#ff7300"/><stop offset="0.2338" stop-color="#ff3000"/><stop offset="0.2688" stop-color="#fe0000"/><stop offset="0.3117" stop-color="#c90000"/><stop offset="0.4091" stop-color="#c90000"/><stop offset="0.4519" stop-color="#fe0000"/><stop offset="0.4948" stop-color="#ff4000"/><stop offset="0.5455" stop-color="#ff9800"/><stop offset="0.7052" stop-color="#fff300"/><stop offset="0.7870" stop-color="#fbff04"/><stop offset="0.8766" stop-color="#edff12"/><stop offset="1.0000" stop-color="#edff12"/></linearGradient><linearGradient id="g49" gradientUnits="userSpaceOnUse" x1="676" y1="0" x2="1061" y2="0"><stop offset="0.0000" stop-color="#79ff86"/><stop offset="0.0779" stop-color="#79ff86"/><stop offset="0.0818" stop-color="#7dff82"/><stop offset="0.1130" stop-color="#d1ff2e"/><stop offset="0.1442" stop-color="#fffd00"/><stop offset="0.1948" stop-color="#ff9500"/><stop offset="0.2104" stop-color="#ff7300"/><stop offset="0.2338" stop-color="#ff3000"/><stop offset="0.2688" stop-color="#fe0000"/><stop offset="0.3117" stop-color="#c90000"/><stop offset="0.4091" stop-color="#c90000"/><stop offset="0.4558" stop-color="#ff0100"/><stop offset="0.4909" stop-color="#ff2400"/><stop offset="0.5455" stop-color="#ff7a00"/><stop offset="0.6351" stop-color="#ffcc00"/><stop offset="0.7208" stop-color="#fff200"/><stop offset="1.0000" stop-color="#fffc00"/></linearGradient><linearGradient id="g50" gradientUnits="userSpaceOnUse" x1="676" y1="0" x2="1061" y2="0"><stop offset="0.0000" stop-color="#78ff87"/><stop offset="0.0779" stop-color="#78ff87"/><stop offset="0.0818" stop-color="#7cff83"/><stop offset="0.1130" stop-color="#d1ff2e"/><stop offset="0.1442" stop-color="#fffd00"/><stop offset="0.1948" stop-color="#ff9500"/><stop offset="0.2104" stop-color="#ff7300"/><stop offset="0.2338" stop-color="#ff3000"/><stop offset="0.2688" stop-color="#fe0000"/><stop offset="0.3117" stop-color="#c90000"/><stop offset="0.4091" stop-color="#c90000"/><stop offset="0.4558" stop-color="#ff0100"/><stop offset="0.4909" stop-color="#ff2400"/><stop offset="0.5455" stop-color="#ff7a00"/><stop offset="0.6351" stop-color="#ffcc00"/><stop offset="0.7208" stop-color="#fff200"/><stop offset="1.0000" stop-color="#fffc00"/></linearGradient><linearGradient id="g51" gradientUnits="userSpaceOnUse" x1="676" y1="0" x2="1061" y2="0"><stop offset="0.0000" stop-color="#77ff88"/><stop offset="0.0779" stop-color="#77ff88"/><stop offset="0.0818" stop-color="#7bff84"/><stop offset="0.1130" stop-color="#d1ff2e"/><stop offset="0.1442" stop-color="#fffd00"/><stop offset="0.1948" stop-color="#ff9500"/><stop offset="0.2104" stop-color="#ff7300"/><stop offset="0.2338" stop-color="#ff3000"/><stop offset="0.2688" stop-color="#fe0000"/><stop offset="0.3117" stop-color="#c90000"/><stop offset="0.4091" stop-color="#c90000"/><stop offset="0.4558" stop-color="#ff0100"/><stop offset="0.4870" stop-color="#ff1e00"/><stop offset="0.5571" stop-color="#ff9600"/><stop offset="0.6312" stop-color="#ffca00"/><stop offset="0.8104" stop-color="#ffdf00"/><stop offset="1.0000" stop-color="#ffe800"/></linearGradient><linearGradient id="g52" gradientUnits="userSpaceOnUse" x1="676" y1="0" x2="1061" y2="0"><stop offset="0.0000" stop-color="#76ff89"/><stop offset="0.0779" stop-color="#76ff89"/><stop offset="0.0818" stop-color="#79ff86"/><stop offset="0.1130" stop-color="#d1ff2e"/><stop offset="0.1442" stop-color="#fffd00"/><stop offset="0.1948" stop-color="#ff9500"/><stop offset="0.2104" stop-color="#ff7300"/><stop offset="0.2338" stop-color="#ff3000"/><stop offset="0.2688" stop-color="#fe0000"/><stop offset="0.3117" stop-color="#c90000"/><stop offset="0.4091" stop-color="#c90000"/><stop offset="0.4558" stop-color="#ff0100"/><stop offset="0.4870" stop-color="#ff1e00"/><stop offset="0.5571" stop-color="#ff9600"/><stop offset="0.6312" stop-color="#ffca00"/><stop offset="0.8104" stop-color="#ffdf00"/><stop offset="1.0000" stop-color="#ffe800"/></linearGradient><linearGradient id="g53" gradientUnits="userSpaceOnUse" x1="676" y1="0" x2="1061" y2="0"><stop offset="0.0000" stop-color="#74ff8b"/><stop offset="0.0779" stop-color="#74ff8b"/><stop offset="0.0818" stop-color="#78ff87"/><stop offset="0.1130" stop-color="#d1ff2e"/><stop offset="0.1442" stop-color="#fffd00"/><stop offset="0.1948" stop-color="#ff9500"/><stop offset="0.2104" stop-color="#ff7300"/><stop offset="0.2338" stop-color="#ff3000"/><stop offset="0.2688" stop-color="#fe0000"/><stop offset="0.3117" stop-color="#c90000"/><stop offset="0.4091" stop-color="#c90000"/><stop offset="0.4558" stop-color="#ff0300"/><stop offset="0.4948" stop-color="#ff3400"/><stop offset="0.5727" stop-color="#ffab00"/><stop offset="0.6623" stop-color="#ffd400"/><stop offset="0.7987" stop-color="#ffdc00"/><stop offset="1.0000" stop-color="#ffd300"/></linearGradient><linearGradient id="g54" gradientUnits="userSpaceOnUse" x1="676" y1="0" x2="1061" y2="0"><stop offset="0.0000" stop-color="#73ff8c"/><stop offset="0.0779" stop-color="#73ff8c"/><stop offset="0.0818" stop-color="#77ff88"/><stop offset="0.1130" stop-color="#d1ff2e"/><stop offset="0.1442" stop-color="#fffd00"/><stop offset="0.1948" stop-color="#ff9500"/><stop offset="0.2104" stop-color="#ff7300"/><stop offset="0.2338" stop-color="#ff3000"/><stop offset="0.2688" stop-color="#fe0000"/><stop offset="0.3117" stop-color="#c90000"/><stop offset="0.4091" stop-color="#c90000"/><stop offset="0.4558" stop-color="#ff0300"/><stop offset="0.4948" stop-color="#ff3400"/><stop offset="0.5727" stop-color="#ffab00"/><stop offset="0.6623" stop-color="#ffd400"/><stop offset="0.7987" stop-color="#ffdc00"/><stop offset="1.0000" stop-color="#ffd300"/></linearGradient><linearGradient id="cb55" gradientUnits="userSpaceOnUse" x1="0" y1="164" x2="0" y2="511.5"><stop offset="0.0000" stop-color="#800000"/><stop offset="0.0156" stop-color="#870000"/><stop offset="0.1250" stop-color="#f70000"/><stop offset="0.1406" stop-color="#ff0800"/><stop offset="0.3750" stop-color="#fff700"/><stop offset="0.3906" stop-color="#f7ff08"/><stop offset="0.6250" stop-color="#08fff7"/><stop offset="0.6406" stop-color="#00f7ff"/><stop offset="0.8750" stop-color="#0008ff"/><stop offset="0.8906" stop-color="#0000f7"/><stop offset="0.9844" stop-color="#000097"/><stop offset="1.0000" stop-color="#00008f"/></linearGradient><linearGradient id="cb56" gradientUnits="userSpaceOnUse" x1="0" y1="163.5" x2="0" y2="510"><stop offset="0.0000" stop-color="#80ff80"/><stop offset="0.1250" stop-color="#b2ff3f"/><stop offset="0.2344" stop-color="#f8ff06"/><stop offset="0.2500" stop-color="#fffb00"/><stop offset="0.3281" stop-color="#ffbf00"/><stop offset="0.5000" stop-color="#ff7600"/><stop offset="0.6719" stop-color="#ff1e00"/><stop offset="0.7344" stop-color="#ff0200"/><stop offset="0.7812" stop-color="#ea0000"/><stop offset="1.0000" stop-color="#800000"/></linearGradient><linearGradient id="cb57" gradientUnits="userSpaceOnUse" x1="0" y1="876.5" x2="0" y2="1251"><stop offset="0.0000" stop-color="#800000"/><stop offset="0.0156" stop-color="#870000"/><stop offset="0.1250" stop-color="#f70000"/><stop offset="0.1406" stop-color="#ff0800"/><stop offset="0.3750" stop-color="#fff700"/><stop offset="0.3906" stop-color="#f7ff08"/><stop offset="0.6250" stop-color="#08fff7"/><stop offset="0.6406" stop-color="#00f7ff"/><stop offset="0.8750" stop-color="#0008ff"/><stop offset="0.8906" stop-color="#0000f7"/><stop offset="0.9844" stop-color="#000097"/><stop offset="1.0000" stop-color="#00008f"/></linearGradient><linearGradient id="cb58" gradientUnits="userSpaceOnUse" x1="0" y1="878.3" x2="0" y2="1258.5"><stop offset="0.0000" stop-color="#800000"/><stop offset="0.0156" stop-color="#870000"/><stop offset="0.1250" stop-color="#f70000"/><stop offset="0.1406" stop-color="#ff0800"/><stop offset="0.3750" stop-color="#fff700"/><stop offset="0.3906" stop-color="#f7ff08"/><stop offset="0.6250" stop-color="#08fff7"/><stop offset="0.6406" stop-color="#00f7ff"/><stop offset="0.8750" stop-color="#0008ff"/><stop offset="0.8906" stop-color="#0000f7"/><stop offset="0.9844" stop-color="#000097"/><stop offset="1.0000" stop-color="#00008f"/></linearGradient><radialGradient id="rg59" gradientUnits="userSpaceOnUse" cx="270" cy="955" r="400" fx="262.73" fy="990" gradientTransform="translate(270,955) scale(1.1,1) translate(-270,-955)"><stop offset="0.0000" stop-color="#fff200"/><stop offset="0.0400" stop-color="#feff01"/><stop offset="0.0450" stop-color="#fdff02"/><stop offset="0.0750" stop-color="#d9ff26"/><stop offset="0.1350" stop-color="#50ffaf"/><stop offset="0.1700" stop-color="#03fffc"/><stop offset="0.1800" stop-color="#00edff"/><stop offset="0.1900" stop-color="#00d5ff"/><stop offset="0.2000" stop-color="#00b6ff"/><stop offset="0.2200" stop-color="#0072ff"/><stop offset="0.2550" stop-color="#0027ff"/><stop offset="0.2700" stop-color="#0003ff"/><stop offset="0.2800" stop-color="#0000ea"/><stop offset="0.3200" stop-color="#000091"/><stop offset="1.0000" stop-color="#00008f"/></radialGradient><clipPath id="clip60"><circle cx="274.1" cy="1076" r="176.7"/></clipPath><radialGradient id="halo61" gradientUnits="userSpaceOnUse" cx="274.1" cy="1076" r="189.7"><stop offset="0.9262" stop-color="#dfe7f4"/><stop offset="0.9736" stop-color="#e6ecf7"/><stop offset="1" stop-color="#ffffff"/></radialGradient><radialGradient id="rg62" gradientUnits="userSpaceOnUse" cx="820" cy="910" r="500" fx="880.00" fy="1000"><stop offset="0.0000" stop-color="#800000"/><stop offset="0.0250" stop-color="#810000"/><stop offset="0.0400" stop-color="#870000"/><stop offset="0.0800" stop-color="#ab0000"/><stop offset="0.1150" stop-color="#fd0000"/><stop offset="0.1250" stop-color="#ff1200"/><stop offset="0.1700" stop-color="#ff7200"/><stop offset="0.1750" stop-color="#ff8000"/><stop offset="0.2050" stop-color="#ffea00"/><stop offset="0.2100" stop-color="#fffa00"/><stop offset="0.2150" stop-color="#f6ff09"/><stop offset="0.2550" stop-color="#83ff7c"/><stop offset="0.2900" stop-color="#08fff7"/><stop offset="0.2950" stop-color="#00f8ff"/><stop offset="0.3250" stop-color="#009eff"/><stop offset="0.3550" stop-color="#002cff"/><stop offset="0.3650" stop-color="#000cff"/><stop offset="0.3700" stop-color="#0000fd"/><stop offset="0.3900" stop-color="#0000c2"/><stop offset="0.4100" stop-color="#000095"/><stop offset="0.4150" stop-color="#00008f"/><stop offset="1.0000" stop-color="#00008f"/></radialGradient><clipPath id="clip63"><circle cx="894.6" cy="1076" r="176.4"/></clipPath><radialGradient id="halo64" gradientUnits="userSpaceOnUse" cx="894.6" cy="1076" r="189.4"><stop offset="0.9261" stop-color="#dfe7f4"/><stop offset="0.9736" stop-color="#e6ecf7"/><stop offset="1" stop-color="#ffffff"/></radialGradient><clipPath id="clip65"><circle cx="1514.8" cy="1075.7" r="177"/></clipPath></defs><rect width="1772" height="1276" fill="#fff"/><g clip-path="url(#hclip1)"><g filter="url(#hblur2)"><rect x="53" y="156.5" width="385" height="13.60" fill="url(#g3)"/><rect x="53" y="169.5" width="385" height="15.10" fill="url(#g4)"/><rect x="53" y="184.0" width="385" height="15.10" fill="url(#g5)"/><rect x="53" y="198.5" width="385" height="15.10" fill="url(#g6)"/><rect x="53" y="213.0" width="385" height="15.10" fill="url(#g7)"/><rect x="53" y="227.5" width="385" height="15.10" fill="url(#g8)"/><rect x="53" y="242.0" width="385" height="15.10" fill="url(#g9)"/><rect x="53" y="256.5" width="385" height="15.10" fill="url(#g10)"/><rect x="53" y="271.0" width="385" height="15.10" fill="url(#g11)"/><rect x="53" y="285.5" width="385" height="15.10" fill="url(#g12)"/><rect x="53" y="300.0" width="385" height="15.10" fill="url(#g13)"/><rect x="53" y="314.5" width="385" height="15.10" fill="url(#g14)"/><rect x="53" y="329.0" width="385" height="15.10" fill="url(#g15)"/><rect x="53" y="343.5" width="385" height="15.10" fill="url(#g16)"/><rect x="53" y="358.0" width="385" height="15.10" fill="url(#g17)"/><rect x="53" y="372.5" width="385" height="15.10" fill="url(#g18)"/><rect x="53" y="387.0" width="385" height="15.10" fill="url(#g19)"/><rect x="53" y="401.5" width="385" height="15.10" fill="url(#g20)"/><rect x="53" y="416.0" width="385" height="15.10" fill="url(#g21)"/><rect x="53" y="430.5" width="385" height="15.10" fill="url(#g22)"/><rect x="53" y="445.0" width="385" height="15.10" fill="url(#g23)"/><rect x="53" y="459.5" width="385" height="15.10" fill="url(#g24)"/><rect x="53" y="474.0" width="385" height="15.10" fill="url(#g25)"/><rect x="53" y="488.5" width="385" height="15.10" fill="url(#g26)"/><rect x="53" y="503.0" width="385" height="14.10" fill="url(#g27)"/></g></g><g clip-path="url(#hclip28)"><g filter="url(#hblur29)"><rect x="676" y="156.5" width="385" height="13.60" fill="url(#g30)"/><rect x="676" y="169.5" width="385" height="15.10" fill="url(#g31)"/><rect x="676" y="184.0" width="385" height="15.10" fill="url(#g32)"/><rect x="676" y="198.5" width="385" height="15.10" fill="url(#g33)"/><rect x="676" y="213.0" width="385" height="15.10" fill="url(#g34)"/><rect x="676" y="227.5" width="385" height="15.10" fill="url(#g35)"/><rect x="676" y="242.0" width="385" height="15.10" fill="url(#g36)"/><rect x="676" y="256.5" width="385" height="15.10" fill="url(#g37)"/><rect x="676" y="271.0" width="385" height="15.10" fill="url(#g38)"/><rect x="676" y="285.5" width="385" height="15.10" fill="url(#g39)"/><rect x="676" y="300.0" width="385" height="15.10" fill="url(#g40)"/><rect x="676" y="314.5" width="385" height="15.10" fill="url(#g41)"/><rect x="676" y="329.0" width="385" height="15.10" fill="url(#g42)"/><rect x="676" y="343.5" width="385" height="15.10" fill="url(#g43)"/><rect x="676" y="358.0" width="385" height="15.10" fill="url(#g44)"/><rect x="676" y="372.5" width="385" height="15.10" fill="url(#g45)"/><rect x="676" y="387.0" width="385" height="15.10" fill="url(#g46)"/><rect x="676" y="401.5" width="385" height="15.10" fill="url(#g47)"/><rect x="676" y="416.0" width="385" height="15.10" fill="url(#g48)"/><rect x="676" y="430.5" width="385" height="15.10" fill="url(#g49)"/><rect x="676" y="445.0" width="385" height="15.10" fill="url(#g50)"/><rect x="676" y="459.5" width="385" height="15.10" fill="url(#g51)"/><rect x="676" y="474.0" width="385" height="15.10" fill="url(#g52)"/><rect x="676" y="488.5" width="385" height="15.10" fill="url(#g53)"/><rect x="676" y="503.0" width="385" height="14.10" fill="url(#g54)"/></g></g><rect x="1305.5" y="162.5" width="372.5" height="348.0" fill="#80ff80"/><rect x="1529.2" y="184.3" width="13.80" height="13.30" fill="#ff8a00"/><rect x="1525.8" y="197.6" width="14.40" height="15.40" fill="#ff8a00"/><rect x="1525.3" y="213" width="12.30" height="29.00" fill="#ff8a00"/><rect x="1587.2" y="228" width="18.70" height="14.90" fill="#ff8a00"/><rect x="1599.8" y="242.9" width="4.60" height="13.80" fill="#ff8a00"/><rect x="1588.7" y="242.9" width="3.10" height="13.80" fill="#ff8a00"/><rect x="1581.8" y="242.9" width="6.90" height="13.80" fill="#8c0000"/><rect x="1591.8" y="242.9" width="8.00" height="13.80" fill="#8c0000"/><rect x="1581" y="256.7" width="9.60" height="13.80" fill="#ff8a00"/><rect x="1590.2" y="256.7" width="5.00" height="13.80" fill="#8c0000"/><rect x="1595.2" y="256.7" width="3.80" height="13.80" fill="#ff8a00"/><rect x="1575.2" y="270.5" width="8.90" height="15.40" fill="#ff8a00"/><rect x="1587.5" y="270.5" width="3.80" height="15.40" fill="#ff8a00"/><rect x="1584.1" y="270.5" width="3.40" height="1.50" fill="#ff8a00"/><rect x="1570.6" y="285.9" width="9.20" height="14.50" fill="#ff8a00"/><line x1="90" y1="162.5" x2="90" y2="510.5" stroke="#1d6b1d" stroke-width="1.4" stroke-dasharray="1.6,2.3" opacity="0.85"/><line x1="90" y1="510.5" x2="90" y2="508.0" stroke="#222" stroke-width="1.3"/><line x1="90" y1="162.5" x2="90" y2="165.0" stroke="#222" stroke-width="1.3"/><line x1="253.8" y1="510.5" x2="253.8" y2="508.0" stroke="#222" stroke-width="1.3"/><line x1="253.8" y1="162.5" x2="253.8" y2="165.0" stroke="#222" stroke-width="1.3"/><line x1="417.3" y1="510.5" x2="417.3" y2="508.0" stroke="#222" stroke-width="1.3"/><line x1="417.3" y1="162.5" x2="417.3" y2="165.0" stroke="#222" stroke-width="1.3"/><line x1="59" y1="200.7" x2="61.5" y2="200.7" stroke="#222" stroke-width="1.3"/><line x1="432" y1="200.7" x2="429.5" y2="200.7" stroke="#222" stroke-width="1.3"/><line x1="59" y1="329.8" x2="61.5" y2="329.8" stroke="#222" stroke-width="1.3"/><line x1="432" y1="329.8" x2="429.5" y2="329.8" stroke="#222" stroke-width="1.3"/><rect x="59" y="162.5" width="373" height="348.0" fill="none" stroke="#2a3a30" stroke-width="1.6" opacity="0.85"/><line x1="713" y1="162.5" x2="713" y2="510.5" stroke="#1d6b1d" stroke-width="1.4" stroke-dasharray="1.6,2.3" opacity="0.85"/><line x1="713" y1="510.5" x2="713" y2="508.0" stroke="#222" stroke-width="1.3"/><line x1="713" y1="162.5" x2="713" y2="165.0" stroke="#222" stroke-width="1.3"/><line x1="877" y1="510.5" x2="877" y2="508.0" stroke="#222" stroke-width="1.3"/><line x1="877" y1="162.5" x2="877" y2="165.0" stroke="#222" stroke-width="1.3"/><line x1="1041.4" y1="510.5" x2="1041.4" y2="508.0" stroke="#222" stroke-width="1.3"/><line x1="1041.4" y1="162.5" x2="1041.4" y2="165.0" stroke="#222" stroke-width="1.3"/><line x1="682" y1="200.7" x2="684.5" y2="200.7" stroke="#222" stroke-width="1.3"/><line x1="1055" y1="200.7" x2="1052.5" y2="200.7" stroke="#222" stroke-width="1.3"/><line x1="682" y1="329.8" x2="684.5" y2="329.8" stroke="#222" stroke-width="1.3"/><line x1="1055" y1="329.8" x2="1052.5" y2="329.8" stroke="#222" stroke-width="1.3"/><rect x="682" y="162.5" width="373" height="348.0" fill="none" stroke="#2a3a30" stroke-width="1.6" opacity="0.85"/><line x1="1337" y1="162.5" x2="1337" y2="510.5" stroke="#1d6b1d" stroke-width="1.4" stroke-dasharray="1.6,2.3" opacity="0.85"/><line x1="1337" y1="510.5" x2="1337" y2="508.0" stroke="#222" stroke-width="1.3"/><line x1="1337" y1="162.5" x2="1337" y2="165.0" stroke="#222" stroke-width="1.3"/><line x1="1501" y1="510.5" x2="1501" y2="508.0" stroke="#222" stroke-width="1.3"/><line x1="1501" y1="162.5" x2="1501" y2="165.0" stroke="#222" stroke-width="1.3"/><line x1="1664.8" y1="510.5" x2="1664.8" y2="508.0" stroke="#222" stroke-width="1.3"/><line x1="1664.8" y1="162.5" x2="1664.8" y2="165.0" stroke="#222" stroke-width="1.3"/><line x1="1305.5" y1="200.7" x2="1308.0" y2="200.7" stroke="#222" stroke-width="1.3"/><line x1="1678" y1="200.7" x2="1675.5" y2="200.7" stroke="#222" stroke-width="1.3"/><line x1="1305.5" y1="329.8" x2="1308.0" y2="329.8" stroke="#222" stroke-width="1.3"/><line x1="1678" y1="329.8" x2="1675.5" y2="329.8" stroke="#222" stroke-width="1.3"/><rect x="1305.5" y="162.5" width="372.5" height="348.0" fill="none" stroke="#2a3a30" stroke-width="1.6" opacity="0.85"/><rect x="1085" y="164" width="18" height="347.5" fill="url(#cb55)" stroke="#222" stroke-width="1"/><line x1="1085" y1="251.0" x2="1088" y2="251.0" stroke="#222" stroke-width="1"/><line x1="1103" y1="251.0" x2="1100" y2="251.0" stroke="#222" stroke-width="1"/><line x1="1085" y1="338.0" x2="1088" y2="338.0" stroke="#222" stroke-width="1"/><line x1="1103" y1="338.0" x2="1100" y2="338.0" stroke="#222" stroke-width="1"/><line x1="1085" y1="424.5" x2="1088" y2="424.5" stroke="#222" stroke-width="1"/><line x1="1103" y1="424.5" x2="1100" y2="424.5" stroke="#222" stroke-width="1"/><rect x="1691.5" y="163.5" width="17.5" height="346.5" fill="url(#cb56)" stroke="#222" stroke-width="1"/><line x1="1691.5" y1="279.0" x2="1694.5" y2="279.0" stroke="#222" stroke-width="1"/><line x1="1709" y1="279.0" x2="1706" y2="279.0" stroke="#222" stroke-width="1"/><line x1="1691.5" y1="394.5" x2="1694.5" y2="394.5" stroke="#222" stroke-width="1"/><line x1="1709" y1="394.5" x2="1706" y2="394.5" stroke="#222" stroke-width="1"/><rect x="505.5" y="876.5" width="17.0" height="374.5" fill="url(#cb57)" stroke="#222" stroke-width="1"/><line x1="505.5" y1="970.0" x2="508.5" y2="970.0" stroke="#222" stroke-width="1"/><line x1="522.5" y1="970.0" x2="519.5" y2="970.0" stroke="#222" stroke-width="1"/><line x1="505.5" y1="1064.0" x2="508.5" y2="1064.0" stroke="#222" stroke-width="1"/><line x1="522.5" y1="1064.0" x2="519.5" y2="1064.0" stroke="#222" stroke-width="1"/><line x1="505.5" y1="1158.0" x2="508.5" y2="1158.0" stroke="#222" stroke-width="1"/><line x1="522.5" y1="1158.0" x2="519.5" y2="1158.0" stroke="#222" stroke-width="1"/><rect x="1129.5" y="878.3" width="13.700000000000045" height="380.20000000000005" fill="url(#cb58)" stroke="#222" stroke-width="1"/><line x1="1129.5" y1="972.6" x2="1132.5" y2="972.6" stroke="#222" stroke-width="1"/><line x1="1143.2" y1="972.6" x2="1140.2" y2="972.6" stroke="#222" stroke-width="1"/><line x1="1129.5" y1="1068.0" x2="1132.5" y2="1068.0" stroke="#222" stroke-width="1"/><line x1="1143.2" y1="1068.0" x2="1140.2" y2="1068.0" stroke="#222" stroke-width="1"/><line x1="1129.5" y1="1163.0" x2="1132.5" y2="1163.0" stroke="#222" stroke-width="1"/><line x1="1143.2" y1="1163.0" x2="1140.2" y2="1163.0" stroke="#222" stroke-width="1"/><circle cx="274.1" cy="1076" r="189.7" fill="url(#halo61)"/><circle cx="274.1" cy="1076" r="176.7" fill="url(#rg59)"/><g clip-path="url(#clip60)" fill="none" stroke="#3a3a55" stroke-width="1.2"><ellipse cx="265.7" cy="984.7" rx="82.7" ry="78.2"/><ellipse cx="265" cy="984.8" rx="115.4" ry="115.4"/><ellipse cx="265" cy="975.5" rx="157.1" ry="157.1"/><ellipse cx="265" cy="955.7" rx="207" ry="207"/><ellipse cx="265" cy="930.4" rx="263.8" ry="263.8"/><ellipse cx="265" cy="858.8" rx="365.7" ry="365.7"/></g><circle cx="274.1" cy="1076" r="176.7" fill="none" stroke="#222" stroke-width="1" opacity="0.6"/><path d="M251.10000000000002,890.2 L243.00000000000003,899.9 M296.8,890.2 L305.0,900.1" stroke="#000" stroke-width="2.6" fill="none" stroke-linecap="round"/><path d="M88.10000000000002,1034.2 L92.70000000000002,1034.2 L100.40000000000003,1041.9 M88.10000000000002,1123.3 L93.20000000000002,1124.4 L101.90000000000003,1118.8" stroke="#000" stroke-width="2.2" fill="none" stroke-linecap="round" stroke-linejoin="round"/><path d="M460.1,1034.2 L455.5,1034.2 L447.8,1041.9 M460.1,1123.3 L455.0,1124.4 L446.3,1118.8" stroke="#000" stroke-width="2.2" fill="none" stroke-linecap="round" stroke-linejoin="round"/><rect x="236.1" y="983.5" width="5.5" height="5.5" fill="#000"/><rect x="272.2" y="984.1" width="5.5" height="5.5" fill="#000"/><rect x="307.9" y="983.1" width="5.5" height="5.5" fill="#000"/><rect x="229.4" y="1029.2" width="5.5" height="5.5" fill="#000"/><rect x="272.2" y="1027.7" width="5.5" height="5.5" fill="#000"/><rect x="314.6" y="1029.2" width="5.5" height="5.5" fill="#000"/><rect x="227.1" y="1072.7" width="5.5" height="5.5" fill="#000"/><rect x="317.9" y="1073.7" width="5.5" height="5.5" fill="#000"/><circle cx="894.6" cy="1076" r="189.4" fill="url(#halo64)"/><circle cx="894.6" cy="1076" r="176.4" fill="url(#rg62)"/><g clip-path="url(#clip63)" fill="none" stroke="#2a2a2a" stroke-width="1.2"><ellipse cx="870" cy="983.5" rx="78.5" ry="73.5"/><ellipse cx="867" cy="975" rx="122.5" ry="110.6"/><ellipse cx="868" cy="970" rx="165" ry="146" transform="rotate(-3 868 970)"/><ellipse cx="868" cy="960" rx="210" ry="189" transform="rotate(-6 868 960)"/><ellipse cx="868" cy="945" rx="260" ry="239" transform="rotate(-8 868 945)"/><ellipse cx="868" cy="925" rx="320" ry="296" transform="rotate(-9 868 925)"/></g><circle cx="894.6" cy="1076" r="176.4" fill="none" stroke="#222" stroke-width="1" opacity="0.6"/><path d="M871.6,890.2 L863.5,899.9 M917.3000000000001,890.2 L925.5,900.1" stroke="#000" stroke-width="2.6" fill="none" stroke-linecap="round"/><path d="M708.6,1034.2 L713.2,1034.2 L720.9000000000001,1041.9 M708.6,1123.3 L713.7,1124.4 L722.4000000000001,1118.8" stroke="#000" stroke-width="2.2" fill="none" stroke-linecap="round" stroke-linejoin="round"/><path d="M1080.6,1034.2 L1076.0,1034.2 L1068.3,1041.9 M1080.6,1123.3 L1075.5,1124.4 L1066.8,1118.8" stroke="#000" stroke-width="2.2" fill="none" stroke-linecap="round" stroke-linejoin="round"/><rect x="856.6" y="983.5" width="5.5" height="5.5" fill="#000"/><rect x="892.6" y="984.1" width="5.5" height="5.5" fill="#000"/><rect x="928.4" y="983.1" width="5.5" height="5.5" fill="#000"/><rect x="849.9" y="1029.2" width="5.5" height="5.5" fill="#000"/><rect x="892.6" y="1027.7" width="5.5" height="5.5" fill="#000"/><rect x="935.1" y="1029.2" width="5.5" height="5.5" fill="#000"/><rect x="847.6" y="1072.7" width="5.5" height="5.5" fill="#000"/><rect x="938.4" y="1073.7" width="5.5" height="5.5" fill="#000"/><circle cx="1514.8" cy="1075.7" r="177" fill="none" stroke="#000" stroke-width="2.8"/><path d="M1491.8,889.9000000000001 L1483.7,899.6 M1537.5,889.9000000000001 L1545.7,899.8000000000001" stroke="#000" stroke-width="2.6" fill="none" stroke-linecap="round"/><path d="M1328.8,1033.9 L1333.3999999999999,1033.9 L1341.1,1041.6000000000001 M1328.8,1123.0 L1333.8999999999999,1124.1000000000001 L1342.6,1118.5" stroke="#000" stroke-width="2.2" fill="none" stroke-linecap="round" stroke-linejoin="round"/><path d="M1700.8,1033.9 L1696.2,1033.9 L1688.5,1041.6000000000001 M1700.8,1123.0 L1695.7,1124.1000000000001 L1687.0,1118.5" stroke="#000" stroke-width="2.2" fill="none" stroke-linecap="round" stroke-linejoin="round"/><circle cx="1479.5" cy="986.0" r="7" fill="#e8191c"/><circle cx="1515.6" cy="986.6" r="7" fill="#e8191c"/><rect x="1548.5" y="982.9" width="5.5" height="5.5" fill="#000"/><circle cx="1472.8" cy="1031.7" r="7" fill="#e8191c"/><circle cx="1515.6" cy="1030.1" r="7" fill="#e8191c"/><circle cx="1558.0" cy="1031.7" r="7" fill="#e8191c"/><circle cx="1470.5" cy="1075.1" r="7" fill="#e8191c"/><circle cx="1561.3" cy="1076.1" r="7" fill="#e8191c"/><g fill="#000"><text x="262.50" y="28.70" font-family="'Liberation Serif', serif" font-weight="bold" font-size="35" textLength="48.84" lengthAdjust="spacingAndGlyphs">(A)</text><text x="861.30" y="29.00" font-family="'Liberation Serif', serif" font-weight="bold" font-size="35" textLength="46.23" lengthAdjust="spacingAndGlyphs">(B)</text><text x="1481.30" y="29.00" font-family="'Liberation Serif', serif" font-weight="bold" font-size="35" textLength="48.34" lengthAdjust="spacingAndGlyphs">(C)</text><text x="255.30" y="721.00" font-family="'Liberation Serif', serif" font-weight="bold" font-size="35" textLength="48.54" lengthAdjust="spacingAndGlyphs">(D)</text><text x="855.30" y="723.50" font-family="'Liberation Serif', serif" font-weight="bold" font-size="35" textLength="46.33" lengthAdjust="spacingAndGlyphs">(E)</text><text x="1493.00" y="721.90" font-family="'Liberation Serif', serif" font-weight="bold" font-size="35" textLength="44.57" lengthAdjust="spacingAndGlyphs">(F)</text><text x="262.40" y="108.20" font-family="'Liberation Serif', serif" font-weight="bold" font-size="31" textLength="51.37" lengthAdjust="spacingAndGlyphs">Rep</text><text x="855.70" y="108.50" font-family="'Liberation Serif', serif" font-weight="bold" font-size="31" textLength="74.88" lengthAdjust="spacingAndGlyphs">NRep</text><text x="1314.20" y="105.00" font-family="'Liberation Serif', serif" font-weight="bold" font-size="31" textLength="320.61" lengthAdjust="spacingAndGlyphs">p &lt; 0.05, FDR corrected</text><text x="1389.40" y="142.10" font-family="'Liberation Serif', serif" font-weight="bold" font-size="31" textLength="180.40" lengthAdjust="spacingAndGlyphs">Rep Vs NRep</text><text x="254.60" y="829.20" font-family="'Liberation Serif', serif" font-weight="bold" font-size="31" textLength="52.67" lengthAdjust="spacingAndGlyphs">Rep</text><text x="855.90" y="815.20" font-family="'Liberation Serif', serif" font-weight="bold" font-size="31" textLength="75.18" lengthAdjust="spacingAndGlyphs">NRep</text><text x="1351.90" y="810.00" font-family="'Liberation Serif', serif" font-weight="bold" font-size="31" textLength="319.91" lengthAdjust="spacingAndGlyphs">p &lt; 0.05, FDR corrected</text><text x="1426.90" y="847.60" font-family="'Liberation Serif', serif" font-weight="bold" font-size="31" textLength="179.70" lengthAdjust="spacingAndGlyphs">Rep Vs NRep</text><text x="128.50" y="582.60" font-family="'Liberation Serif', serif" font-weight="bold" font-size="23.5" textLength="280.35" lengthAdjust="spacingAndGlyphs">Time from probe onset (ms)</text><text x="759.50" y="575.90" font-family="'Liberation Serif', serif" font-weight="bold" font-size="23.5" textLength="280.25" lengthAdjust="spacingAndGlyphs">Time from probe onset (ms)</text><text x="1368.50" y="582.60" font-family="'Liberation Serif', serif" font-weight="bold" font-size="23.5" textLength="281.25" lengthAdjust="spacingAndGlyphs">Time from probe onset (ms)</text><text x="84.50" y="542.30" font-family="'Liberation Sans', Arial, sans-serif" font-weight="bold" font-size="20.5" textLength="11.02" lengthAdjust="spacingAndGlyphs">0</text><text x="236.30" y="542.30" font-family="'Liberation Sans', Arial, sans-serif" font-weight="bold" font-size="20.5" textLength="34.97" lengthAdjust="spacingAndGlyphs">500</text><text x="393.30" y="542.30" font-family="'Liberation Sans', Arial, sans-serif" font-weight="bold" font-size="20.5" textLength="47.99" lengthAdjust="spacingAndGlyphs">1000</text><text x="707.50" y="542.70" font-family="'Liberation Sans', Arial, sans-serif" font-weight="bold" font-size="20.5" textLength="11.02" lengthAdjust="spacingAndGlyphs">0</text><text x="859.50" y="542.70" font-family="'Liberation Sans', Arial, sans-serif" font-weight="bold" font-size="20.5" textLength="34.97" lengthAdjust="spacingAndGlyphs">500</text><text x="1017.40" y="542.70" font-family="'Liberation Sans', Arial, sans-serif" font-weight="bold" font-size="20.5" textLength="47.99" lengthAdjust="spacingAndGlyphs">1000</text><text x="1331.50" y="542.60" font-family="'Liberation Sans', Arial, sans-serif" font-weight="bold" font-size="20.5" textLength="11.02" lengthAdjust="spacingAndGlyphs">0</text><text x="1483.50" y="542.60" font-family="'Liberation Sans', Arial, sans-serif" font-weight="bold" font-size="20.5" textLength="34.97" lengthAdjust="spacingAndGlyphs">500</text><text x="1640.80" y="542.60" font-family="'Liberation Sans', Arial, sans-serif" font-weight="bold" font-size="20.5" textLength="47.99" lengthAdjust="spacingAndGlyphs">1000</text><text x="39.70" y="209.50" font-family="'Liberation Sans', Arial, sans-serif" font-weight="bold" font-size="20.5" textLength="9.12" lengthAdjust="spacingAndGlyphs">7</text><text x="39.70" y="337.70" font-family="'Liberation Sans', Arial, sans-serif" font-weight="bold" font-size="20.5" textLength="9.52" lengthAdjust="spacingAndGlyphs">5</text><text x="662.00" y="210.00" font-family="'Liberation Sans', Arial, sans-serif" font-weight="bold" font-size="20.5" textLength="10.72" lengthAdjust="spacingAndGlyphs">7</text><text x="662.00" y="339.30" font-family="'Liberation Sans', Arial, sans-serif" font-weight="bold" font-size="20.5" textLength="11.02" lengthAdjust="spacingAndGlyphs">5</text><text x="1286.40" y="210.00" font-family="'Liberation Sans', Arial, sans-serif" font-weight="bold" font-size="20.5" textLength="9.02" lengthAdjust="spacingAndGlyphs">7</text><text x="1286.40" y="337.80" font-family="'Liberation Sans', Arial, sans-serif" font-weight="bold" font-size="20.5" textLength="9.62" lengthAdjust="spacingAndGlyphs">5</text><text transform="translate(27.10,424.80) rotate(-90)" x="-0.00" y="0" font-family="'Liberation Sans', Arial, sans-serif" font-weight="bold" font-size="23.5" textLength="177.46" lengthAdjust="spacingAndGlyphs">Frequency (Hz)</text><text transform="translate(1274.30,424.30) rotate(-90)" x="-0.00" y="0" font-family="'Liberation Sans', Arial, sans-serif" font-weight="bold" font-size="23.5" textLength="176.06" lengthAdjust="spacingAndGlyphs">Frequency (Hz)</text><text x="1080.60" y="154.40" font-family="'Liberation Sans', Arial, sans-serif" font-weight="bold" font-size="17.5" textLength="26.96" lengthAdjust="spacingAndGlyphs">dB</text><text x="1112.20" y="170.70" font-family="'Liberation Sans', Arial, sans-serif" font-weight="bold" font-size="17.5" textLength="24.50" lengthAdjust="spacingAndGlyphs">1.8</text><text x="1111.70" y="258.80" font-family="'Liberation Sans', Arial, sans-serif" font-weight="bold" font-size="17.5" textLength="25.50" lengthAdjust="spacingAndGlyphs">0.9</text><text x="1111.50" y="345.30" font-family="'Liberation Sans', Arial, sans-serif" font-weight="bold" font-size="17.5" textLength="9.02" lengthAdjust="spacingAndGlyphs">0</text><text x="1111.50" y="432.40" font-family="'Liberation Sans', Arial, sans-serif" font-weight="bold" font-size="17.5" textLength="31.47" lengthAdjust="spacingAndGlyphs">-0.9</text><text x="1111.50" y="519.00" font-family="'Liberation Sans', Arial, sans-serif" font-weight="bold" font-size="17.5" textLength="31.47" lengthAdjust="spacingAndGlyphs">-1.8</text><text x="1717.30" y="171.20" font-family="'Liberation Sans', Arial, sans-serif" font-weight="bold" font-size="18.5" textLength="7.42" lengthAdjust="spacingAndGlyphs">1</text><text x="1716.80" y="287.00" font-family="'Liberation Sans', Arial, sans-serif" font-weight="bold" font-size="18.5" textLength="24.60" lengthAdjust="spacingAndGlyphs">0.1</text><text x="1716.80" y="402.20" font-family="'Liberation Sans', Arial, sans-serif" font-weight="bold" font-size="18.5" textLength="35.22" lengthAdjust="spacingAndGlyphs">0.01</text><text x="1716.80" y="518.00" font-family="'Liberation Sans', Arial, sans-serif" font-weight="bold" font-size="18.5" textLength="45.75" lengthAdjust="spacingAndGlyphs">0.001</text><text x="529.90" y="883.90" font-family="'Liberation Sans', Arial, sans-serif" font-weight="bold" font-size="18.5" textLength="35.32" lengthAdjust="spacingAndGlyphs">0.31</text><text x="529.90" y="977.90" font-family="'Liberation Sans', Arial, sans-serif" font-weight="bold" font-size="18.5" textLength="36.42" lengthAdjust="spacingAndGlyphs">0.09</text><text x="529.90" y="1071.50" font-family="'Liberation Sans', Arial, sans-serif" font-weight="bold" font-size="18.5" textLength="42.09" lengthAdjust="spacingAndGlyphs">-0.13</text><text x="529.90" y="1165.00" font-family="'Liberation Sans', Arial, sans-serif" font-weight="bold" font-size="18.5" textLength="42.09" lengthAdjust="spacingAndGlyphs">-0.34</text><text x="529.90" y="1259.80" font-family="'Liberation Sans', Arial, sans-serif" font-weight="bold" font-size="18.5" textLength="42.09" lengthAdjust="spacingAndGlyphs">-0.56</text><text x="1151.00" y="884.30" font-family="'Liberation Sans', Arial, sans-serif" font-weight="bold" font-size="16.5" textLength="34.82" lengthAdjust="spacingAndGlyphs">0.31</text><text x="1151.00" y="980.70" font-family="'Liberation Sans', Arial, sans-serif" font-weight="bold" font-size="16.5" textLength="36.02" lengthAdjust="spacingAndGlyphs">0.09</text><text x="1151.30" y="1076.20" font-family="'Liberation Sans', Arial, sans-serif" font-weight="bold" font-size="16.5" textLength="41.29" lengthAdjust="spacingAndGlyphs">-0.13</text><text x="1151.30" y="1170.60" font-family="'Liberation Sans', Arial, sans-serif" font-weight="bold" font-size="16.5" textLength="41.29" lengthAdjust="spacingAndGlyphs">-0.34</text><text x="1151.30" y="1265.00" font-family="'Liberation Sans', Arial, sans-serif" font-weight="bold" font-size="16.5" textLength="41.29" lengthAdjust="spacingAndGlyphs">-0.56</text></g></svg>
</body></html>
